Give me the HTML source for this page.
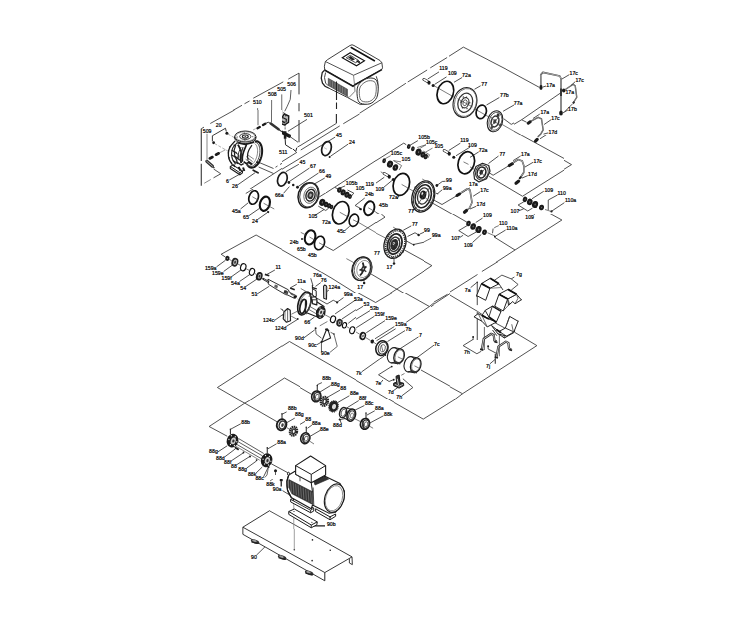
<!DOCTYPE html>
<html lang="en">
<head>
<meta charset="utf-8">
<title>Exploded view</title>
<style>
html,body{margin:0;padding:0;background:#fff;}
body{width:752px;height:632px;overflow:hidden;font-family:"Liberation Sans",sans-serif;}
svg{display:block;}
svg text{font-family:"Liberation Sans",sans-serif;}
.lb text{font-size:5.2px;fill:#000;stroke:#000;stroke-width:0.2px;}
</style>
</head>
<body>
<svg width="752" height="632" viewBox="0 0 752 632">
<rect x="0" y="0" width="752" height="632" fill="#ffffff"/>
<defs>
<clipPath id="c0"><path d="M300 35H394V56H300ZM300 56H394V70H300ZM300 70H394V75H300ZM300 75H394V110H300ZM300 110H394V114H300Z"/></clipPath>
<clipPath id="c1"><path d="M188 110H282V114H188ZM188 114H282V135H188ZM188 135H282V149H188ZM188 149H282V189H188Z"/></clipPath>
<clipPath id="c2"><path d="M242 70H300V75H242ZM242 75H300V110H242ZM282 110H300V114H282ZM282 114H300V135H282ZM282 135H300V149H282Z"/></clipPath>
<clipPath id="c3"><path d="M300 114H376V135H300ZM300 135H376V149H300ZM282 149H376V189H282ZM282 189H376V193H282Z"/></clipPath>
<clipPath id="c4"><path d="M420 75H514V110H420ZM420 110H514V114H420ZM420 114H514V135H420Z"/></clipPath>
<clipPath id="c5"><path d="M394 35H488V56H394ZM394 56H488V70H394ZM394 70H488V75H394ZM394 75H420V110H394ZM394 110H420V114H394Z"/></clipPath>
<clipPath id="c6"><path d="M506 56H600V70H506ZM506 70H600V75H506ZM514 75H600V110H514ZM514 110H600V114H514ZM514 114H600V135H514Z"/></clipPath>
<clipPath id="c7"><path d="M376 135H470V149H376ZM376 149H470V189H376ZM376 189H470V193H376ZM376 193H470V200H376ZM376 200H470V214H376Z"/></clipPath>
<clipPath id="c8"><path d="M470 135H564V149H470ZM470 149H564V189H470ZM470 189H564V193H470ZM470 193H564V200H470ZM470 200H564V214H470Z"/></clipPath>
<clipPath id="c9"><path d="M564 135H614V149H564ZM564 149H614V189H564ZM564 189H614V193H564ZM564 193H614V200H564ZM564 200H614V214H564Z"/></clipPath>
<clipPath id="c10"><path d="M188 189H282V193H188ZM188 193H282V200H188ZM188 200H282V214H188ZM188 214H282V250H188ZM188 250H282V262H188ZM188 262H282V268H188Z"/></clipPath>
<clipPath id="c11"><path d="M282 193H376V200H282ZM282 200H376V214H282ZM282 214H376V250H282ZM282 250H376V262H282ZM282 262H376V268H282ZM282 268H376V272H282Z"/></clipPath>
<clipPath id="c12"><path d="M376 214H424V250H376ZM376 250H424V262H376ZM376 262H424V268H376ZM376 268H424V272H376ZM330 272H424V279H330ZM330 279H424V280H330ZM330 280H424V293H330Z"/></clipPath>
<clipPath id="c13"><path d="M188 268H282V272H188ZM188 272H282V279H188ZM188 279H282V280H188ZM188 280H282V293H188ZM188 293H282V320H188ZM188 320H282V329H188Z"/></clipPath>
<clipPath id="c14"><path d="M282 272H330V279H282ZM282 279H330V280H282ZM282 280H330V293H282ZM282 293H356V320H282ZM282 320H356V329H282ZM262 329H356V330H262ZM262 330H356V341H262Z"/></clipPath>
<clipPath id="c15"><path d="M424 280H434V293H424ZM356 293H434V320H356ZM356 320H434V329H356ZM356 329H434V330H356ZM356 330H434V341H356ZM340 341H434V359H340Z"/></clipPath>
<clipPath id="c16"><path d="M434 320H450V329H434ZM434 329H450V330H434ZM434 330H450V341H434ZM434 341H450V359H434ZM356 359H450V372H356ZM356 372H450V395H356ZM356 395H450V399H356Z"/></clipPath>
<clipPath id="c17"><path d="M450 262H544V268H450ZM450 268H544V272H450ZM450 272H544V279H450ZM450 279H544V280H450ZM450 280H544V293H450ZM450 293H544V320H450ZM450 320H544V329H450ZM450 329H544V330H450Z"/></clipPath>
<clipPath id="c18"><path d="M450 330H544V341H450ZM450 341H544V359H450ZM450 359H544V372H450ZM450 372H544V395H450ZM450 395H544V399H450Z"/></clipPath>
<clipPath id="c19"><path d="M300 372H356V395H300ZM300 395H356V399H300ZM300 399H394V400H300ZM300 400H394V408H300ZM300 408H394V450H300ZM300 450H394V451H300Z"/></clipPath>
<clipPath id="c20"><path d="M206 400H300V408H206ZM206 408H300V450H206ZM206 450H300V451H206ZM206 451H300V474H206ZM206 474H300V479H206Z"/></clipPath>
<clipPath id="c21"><path d="M300 451H364V474H300ZM300 474H364V479H300ZM270 479H364V495H270ZM270 495H364V529H270Z"/></clipPath>
<clipPath id="c22"><path d="M225 495H270V529H225ZM225 529H360V610H225Z"/></clipPath>
<clipPath id="c23"><path d="M424 214H494V250H424ZM424 250H494V262H424ZM424 262H450V268H424ZM424 268H450V272H424ZM424 272H450V279H424Z"/></clipPath>
<clipPath id="c24"><path d="M494 214H574V250H494ZM494 250H574V262H494ZM544 262H574V268H544ZM544 268H574V272H544ZM544 272H574V279H544Z"/></clipPath>
<clipPath id="c25"><path d="M188 329H262V330H188ZM188 330H262V341H188ZM188 341H282V359H188ZM188 359H282V372H188ZM188 372H282V395H188ZM188 395H282V399H188ZM188 399H282V400H188ZM188 400H206V408H188Z"/></clipPath>
<clipPath id="c26"><path d="M282 341H340V359H282ZM282 359H356V372H282ZM282 372H300V395H282ZM282 395H300V399H282ZM282 399H300V400H282Z"/></clipPath>
<clipPath id="c27"><path d="M394 399H470V400H394ZM394 400H470V408H394ZM394 408H470V450H394ZM394 450H470V451H394ZM376 451H470V474H376Z"/></clipPath>
<clipPath id="c28"><path d="M0 0H752V35H0ZM0 35H300V56H0ZM488 35H752V56H488ZM0 56H300V70H0ZM488 56H506V70H488ZM600 56H752V70H600ZM0 70H242V75H0ZM488 70H506V75H488ZM600 70H752V75H600ZM0 75H242V110H0ZM600 75H752V110H600ZM0 110H188V114H0ZM600 110H752V114H600ZM0 114H188V135H0ZM376 114H420V135H376ZM600 114H752V135H600ZM0 135H188V149H0ZM614 135H752V149H614ZM0 149H188V189H0ZM614 149H752V189H614ZM0 189H188V193H0ZM614 189H752V193H614ZM0 193H188V200H0ZM614 193H752V200H614ZM0 200H188V214H0ZM614 200H752V214H614ZM0 214H188V250H0ZM574 214H752V250H574ZM0 250H188V262H0ZM574 250H752V262H574ZM0 262H188V268H0ZM574 262H752V268H574ZM0 268H188V272H0ZM574 268H752V272H574ZM0 272H188V279H0ZM574 272H752V279H574ZM0 279H188V280H0ZM424 279H450V280H424ZM544 279H752V280H544ZM0 280H188V293H0ZM434 280H450V293H434ZM544 280H752V293H544ZM0 293H188V320H0ZM434 293H450V320H434ZM544 293H752V320H544ZM0 320H188V329H0ZM544 320H752V329H544ZM0 329H188V330H0ZM544 329H752V330H544ZM0 330H188V341H0ZM544 330H752V341H544ZM0 341H188V359H0ZM544 341H752V359H544ZM0 359H188V372H0ZM544 359H752V372H544ZM0 372H188V395H0ZM544 372H752V395H544ZM0 395H188V399H0ZM544 395H752V399H544ZM0 399H188V400H0ZM470 399H752V400H470ZM0 400H188V408H0ZM470 400H752V408H470ZM0 408H206V450H0ZM470 408H752V450H470ZM0 450H206V451H0ZM470 450H752V451H470ZM0 451H206V474H0ZM364 451H376V474H364ZM470 451H752V474H470ZM0 474H206V479H0ZM364 474H752V479H364ZM0 479H270V495H0ZM364 479H752V495H364ZM0 495H225V529H0ZM364 495H752V529H364ZM0 529H225V610H0ZM360 529H752V610H360ZM0 610H752V632H0Z"/></clipPath>
</defs>
<g clip-path="url(#c0)">
<path d="M325.38 61.5L327.75 59.5L350 45.5L352 44.75L354 45.5L380 60.5L381.88 62.75L382.5 67.75L381.88 69.38L354.5 84.75L353 86L324.75 70L324.38 66.25Z" fill="#fff" stroke="#2a2a2a" stroke-width="0.9" stroke-linejoin="round"/>
<path d="M325.38 61.5L353.5 75.25L381.88 62.75" fill="none" stroke="#333" stroke-width="0.85"/>
<path d="M353.5 75.25L354.5 84.75" fill="none" stroke="#555" stroke-width="0.7"/>
<path d="M324.5 70L353 86.25L354.5 85" fill="none" stroke="#1a1a1a" stroke-width="1.5"/>
<path d="M354.5 85L381.88 69.62" fill="none" stroke="#1a1a1a" stroke-width="1.5"/>
<path d="M351.25 47.5L374.38 60.75" fill="none" stroke="#111" stroke-width="1.6" stroke-linecap="round"/>
<path d="M342.25 57.75L350.25 52.75L364.5 60.75L356.5 65.75Z" fill="#fff" stroke="#111" stroke-width="1.1"/>
<path d="M346.25 57.75L350.25 55.25L358.75 60.5L355.75 62.75Z" fill="#fff" stroke="#222" stroke-width="0.8"/>
<path d="M348.12 57.5L350.62 56L355 59.38L352.5 60.62Z" fill="#222" stroke="none"/>
<path d="M356.5 61L359.75 62.75" fill="none" stroke="#111" stroke-width="1.4"/>
<path d="M356.88 60.62L360 61.88" fill="none" stroke="#222" stroke-width="1"/>
<path d="M324.5 70.25L322.25 72.5L321.25 78.12L322.5 83.12L325 86.25L329 88.25" fill="none" stroke="#222" stroke-width="1.3"/>
<path d="M325.62 72.5L324.5 77.5L325.62 83.12L328.12 85.62" fill="none" stroke="#444" stroke-width="1"/>
<path d="M328.25 78.25L347.5 89.25L347.5 96.5L328.25 85.5Z" fill="#555" stroke="#333" stroke-width="0.5"/>
<path d="M330 79.75L330 86" fill="none" stroke="#bbb" stroke-width="0.4"/>
<path d="M332.5 81.19L332.5 87.44" fill="none" stroke="#bbb" stroke-width="0.4"/>
<path d="M335 82.62L335 88.88" fill="none" stroke="#bbb" stroke-width="0.4"/>
<path d="M337.5 84.06L337.5 90.31" fill="none" stroke="#bbb" stroke-width="0.4"/>
<path d="M340 85.5L340 91.75" fill="none" stroke="#bbb" stroke-width="0.4"/>
<path d="M342.5 86.94L342.5 93.19" fill="none" stroke="#bbb" stroke-width="0.4"/>
<path d="M345 88.38L345 94.62" fill="none" stroke="#bbb" stroke-width="0.4"/>
<path d="M329 88.25L347.5 97.5L360.25 104.5L365 104L371.88 100.62L376.5 93.75L378 87.5L377.75 81.25L376.25 76.25" fill="none" stroke="#2a2a2a" stroke-width="0.9"/>
<path d="M347.5 96.5L349 97.5L355 91.25L354.5 85" fill="none" stroke="#444" stroke-width="0.7"/>
<path d="M358.12 85.62C359.62 82.71 363.44 79.85 366.25 78.75C369.06 77.65 373.02 77.75 375 79C376.98 80.25 377.83 83.17 378.12 86.25C378.42 89.33 378.1 94.58 376.75 97.5C375.4 100.42 372.75 102.81 370 103.75C367.25 104.69 362.38 104.38 360.25 103.12C358.12 101.88 357.6 99.17 357.25 96.25C356.9 93.33 356.62 88.54 358.12 85.62Z" fill="#fff" stroke="#2a2a2a" stroke-width="1"/>
<path d="M360.25 86.88C361.48 84.48 364.58 82.15 366.88 81.25C369.17 80.35 372.44 80.56 374 81.5C375.56 82.44 376.08 84.38 376.25 86.88C376.42 89.38 376.15 94.06 375 96.5C373.85 98.94 371.56 100.75 369.38 101.5C367.19 102.25 363.52 101.98 361.88 101C360.23 100.02 359.77 97.98 359.5 95.62C359.23 93.27 359.02 89.27 360.25 86.88Z" fill="none" stroke="#444" stroke-width="0.8"/>
<path d="M336.5 81.5L336.5 100" fill="none" stroke="#222" stroke-width="1.1"/>
<path d="M336.5 102.5L336.5 109" fill="none" stroke="#222" stroke-width="1.1"/>
<path d="M395 90.62L359.5 113.25" fill="none" stroke="#333" stroke-width="0.85"/>
</g>
<g clip-path="url(#c1)">
<path d="M201.25 128.75L201.25 161" fill="none" stroke="#222" stroke-width="1"/>
<path d="M201.25 163.75L201.25 185.75" fill="none" stroke="#222" stroke-width="1"/>
<path d="M201.25 128.75L204 127.12" fill="none" stroke="#333" stroke-width="0.85"/>
<path d="M210.25 123.5L234.5 110" fill="none" stroke="#333" stroke-width="0.85"/>
<path d="M204.25 183.25L210.75 179.5" fill="none" stroke="#555" stroke-width="0.7"/>
<path d="M213.5 177.88L220.75 173.75L213.62 169" fill="none" stroke="#333" stroke-width="0.85"/>
<path d="M212.38 141.25L212.38 135.75L225.5 128.25L226.25 131.5" fill="none" stroke="#222" stroke-width="0.9"/>
<ellipse cx="226.88" cy="133.25" rx="1.5" ry="1.5" fill="#1a1a1a" stroke="none"/>
<ellipse cx="213.62" cy="142.75" rx="1.38" ry="1.38" fill="#1a1a1a" stroke="none"/>
<path d="M227.75 134L235.5 138.25" fill="none" stroke="#777" stroke-width="0.6" stroke-dasharray="3 1.5"/>
<path d="M214.5 143.5L229.25 151.88" fill="none" stroke="#777" stroke-width="0.6" stroke-dasharray="3 1.5"/>
<path d="M207 133.75L207 159.75" fill="none" stroke="#555" stroke-width="0.7"/>
<path d="M216 154.75L218.75 153.25" fill="none" stroke="#1a1a1a" stroke-width="2.6" stroke-linecap="round"/>
<path d="M209.75 158.5L212.5 157" fill="none" stroke="#1a1a1a" stroke-width="2.6" stroke-linecap="round"/>
<path d="M218.75 153.25L225.5 149.75" fill="none" stroke="#666" stroke-width="0.6"/>
<path d="M206.75 161.25L212.5 166.25" fill="none" stroke="#333" stroke-width="3" stroke-linecap="round"/>
<path d="M206.75 161.25L212.5 166.25" fill="none" stroke="#aaa" stroke-width="1" stroke-linecap="round"/>
<path d="M213 166.88L214.5 168" fill="none" stroke="#333" stroke-width="1.2"/>
<path d="M259.25 162.5L273.5 168.5" fill="none" stroke="#333" stroke-width="0.85"/>
<path d="M275.5 167.25L277.5 166" fill="none" stroke="#333" stroke-width="0.85"/>
<path d="M280 164.5L283 162.75" fill="none" stroke="#333" stroke-width="0.85"/>
<path d="M258.62 167L273.5 173.5" fill="none" stroke="#333" stroke-width="0.85"/>
<path d="M283 167.75L246.75 191.25" fill="none" stroke="#333" stroke-width="0.85"/>
<path d="M229.25 180L240.5 173.75" fill="none" stroke="#333" stroke-width="0.85"/>
<path d="M237.5 185L255 172.75" fill="none" stroke="#333" stroke-width="0.85"/>
<path d="M253.25 170.25L258 172.75" fill="none" stroke="#222" stroke-width="1.8" stroke-linecap="round"/>
<path d="M258 110L258 125.25" fill="none" stroke="#444" stroke-width="0.8"/>
<path d="M271.5 110L271.5 122.5" fill="none" stroke="#444" stroke-width="0.8"/>
<path d="M257.5 128.25L259.75 127" fill="none" stroke="#1a1a1a" stroke-width="2.4" stroke-linecap="round"/>
<path d="M263 125L265.25 123.75" fill="none" stroke="#1a1a1a" stroke-width="2.4" stroke-linecap="round"/>
<path d="M265.5 123.5L268.25 122.25L270.75 123.5" fill="none" stroke="#333" stroke-width="1"/>
<path d="M270.75 123.5L278.5 129.25" fill="none" stroke="#333" stroke-width="2.6" stroke-linecap="round"/>
<path d="M278.5 129.25L282 131.88" fill="none" stroke="#333" stroke-width="1.2"/>
<path d="M253 130L256.5 128.25" fill="none" stroke="#777" stroke-width="0.6" stroke-dasharray="3 1.5"/>
</g>
<g clip-path="url(#c2)">
<path d="M244.5 103.75L249.5 101" fill="none" stroke="#333" stroke-width="0.85"/>
<path d="M253.25 98.25L283.25 81.88" fill="none" stroke="#333" stroke-width="0.85"/>
<path d="M288.25 79.12L297.62 73.88L299 73.12" fill="none" stroke="#333" stroke-width="0.85"/>
<path d="M299 73.12L299 94.38" fill="none" stroke="#333" stroke-width="1"/>
<path d="M299 103.12L299 111.25" fill="none" stroke="#333" stroke-width="1"/>
<path d="M299 120L299 142.25" fill="none" stroke="#333" stroke-width="1"/>
<path d="M257.62 108.12L257.62 125.62" fill="none" stroke="#444" stroke-width="0.8"/>
<path d="M271.62 100L271.62 123.12" fill="none" stroke="#444" stroke-width="0.8"/>
<path d="M281.75 94.38L281.75 116.5" fill="none" stroke="#444" stroke-width="0.8"/>
<path d="M291 90L290.25 99.38L287.25 106.25L284.75 111.25" fill="none" stroke="#333" stroke-width="0.8" stroke-linejoin="round"/>
<path d="M306 120L288 131.25" fill="none" stroke="#333" stroke-width="0.85"/>
<path d="M257.25 128L259.5 127" fill="none" stroke="#1a1a1a" stroke-width="2.4" stroke-linecap="round"/>
<path d="M263.25 125L265.5 123.75" fill="none" stroke="#1a1a1a" stroke-width="2.4" stroke-linecap="round"/>
<path d="M265.5 123.5L268.25 122L270.75 123.75" fill="none" stroke="#333" stroke-width="1"/>
<path d="M270.75 123.75L278.5 129.5" fill="none" stroke="#333" stroke-width="2.6" stroke-linecap="round"/>
<path d="M278.5 129.5L283.25 133.12" fill="none" stroke="#333" stroke-width="1.2"/>
<path d="M280.5 120.25L284.25 114L288.75 116L288.5 122.25L284.5 125L280.5 123.5Z" fill="#bbb" stroke="#1a1a1a" stroke-width="1.4"/>
<path d="M282.62 117.5L286.38 119.38L286 122.5" fill="none" stroke="#222" stroke-width="1.2"/>
<path d="M281.75 121.25L285.12 122.75" fill="none" stroke="#222" stroke-width="1.6"/>
<path d="M283.25 112.5L285.12 113.75L285.75 116.5" fill="none" stroke="#333" stroke-width="0.9"/>
<path d="M285.12 125L285.12 130" fill="none" stroke="#333" stroke-width="0.9" stroke-dasharray="1 0.6"/>
<path d="M282.25 132.5L289.25 136" fill="none" stroke="#1a1a1a" stroke-width="3.6" stroke-linecap="round"/>
<path d="M285.12 131.25L285.12 138.75" fill="none" stroke="#1a1a1a" stroke-width="2.6"/>
<path d="M285.12 138.12L285.5 144.75L295.75 151.5L296.75 147.75" fill="none" stroke="#222" stroke-width="1" stroke-linejoin="round"/>
<path d="M289.5 136.25L298 142.25" fill="none" stroke="#333" stroke-width="0.85"/>
<path d="M336.5 123L297.5 147.12" fill="none" stroke="#333" stroke-width="0.85"/>
<path d="M336 128.62L329.5 132.62" fill="none" stroke="#333" stroke-width="0.85"/>
<path d="M326 134.75L302.62 149" fill="none" stroke="#333" stroke-width="0.85"/>
</g>
<g clip-path="url(#c3)">
<path d="M336.38 114L336.38 123.25" fill="none" stroke="#222" stroke-width="1.1"/>
<path d="M336.38 123.38L297.5 147.25" fill="none" stroke="#333" stroke-width="0.85"/>
<path d="M285.75 142.5L295.75 151.5L296.75 147.75" fill="none" stroke="#222" stroke-width="1"/>
<path d="M359.5 114L343.25 123.75" fill="none" stroke="#333" stroke-width="0.85"/>
<path d="M339.75 125.88L300.75 150" fill="none" stroke="#333" stroke-width="0.85"/>
<path d="M297 152.25L282 161.62" fill="none" stroke="#333" stroke-width="0.85"/>
<path d="M335.12 137.12L282 169.25" fill="none" stroke="#333" stroke-width="0.85"/>
<ellipse cx="326.5" cy="148.62" rx="4.62" ry="7.25" fill="none" stroke="#1a1a1a" stroke-width="1.7" transform="rotate(17 326.5 148.62)"/>
<path d="M323.88 147.5L327 149.25" fill="none" stroke="#888" stroke-width="0.5"/>
<path d="M348.25 144L330.5 156.25" fill="none" stroke="#333" stroke-width="0.85"/>
<ellipse cx="329.62" cy="156.88" rx="1" ry="1" fill="#1a1a1a" stroke="none"/>
<path d="M298.88 164.25L285.75 171.75" fill="none" stroke="#333" stroke-width="0.85"/>
<path d="M309.5 168L289.75 181.25" fill="none" stroke="#333" stroke-width="0.85"/>
<path d="M318.5 173L298.5 186.25" fill="none" stroke="#333" stroke-width="0.85"/>
<path d="M324.75 178L313.88 184.25" fill="none" stroke="#333" stroke-width="0.85"/>
<ellipse cx="288.88" cy="182.5" rx="1.38" ry="1.38" fill="#1a1a1a" stroke="none"/>
<ellipse cx="293.25" cy="185" rx="1.25" ry="1.25" fill="#1a1a1a" stroke="none"/>
<ellipse cx="297.5" cy="187.25" rx="1.38" ry="1.38" fill="#1a1a1a" stroke="none"/>
<path d="M376 160.5L325.75 193" fill="none" stroke="#333" stroke-width="0.85"/>
<path d="M345.12 185.88L337 189.25" fill="none" stroke="#333" stroke-width="0.85"/>
<path d="M307 119.38L299.5 124" fill="none" stroke="#333" stroke-width="0.85"/>
</g>
<g clip-path="url(#c4)">
<path d="M422.5 79.38L424.5 80.5" fill="none" stroke="#444" stroke-width="0.7"/>
<path d="M434 85.75L514 131.25" fill="none" stroke="#444" stroke-width="0.7"/>
<path d="M439 71.88L427.75 79" fill="none" stroke="#333" stroke-width="0.85"/>
<path d="M446.5 76.88L434.62 84.38" fill="none" stroke="#333" stroke-width="0.85"/>
<path d="M462.12 77.5L454 82.25" fill="none" stroke="#333" stroke-width="0.85"/>
<path d="M424 79.5L427.5 81.5" fill="none" stroke="#222" stroke-width="3" stroke-linecap="round"/>
<path d="M424 79.5L427.5 81.5" fill="none" stroke="#fff" stroke-width="1.6" stroke-linecap="round"/>
<ellipse cx="429" cy="82.75" rx="1.62" ry="1.88" fill="#1a1a1a" stroke="none"/>
<ellipse cx="433.12" cy="85.38" rx="1.5" ry="1.5" fill="#1a1a1a" stroke="none"/>
<ellipse cx="445.38" cy="92.5" rx="8" ry="11.5" fill="none" stroke="#111" stroke-width="1.7" transform="rotate(17 445.38 92.5)"/>
<ellipse cx="465" cy="102.5" rx="11.62" ry="15.25" fill="#fff" stroke="#222" stroke-width="1.1" transform="rotate(17 465 102.5)"/>
<ellipse cx="465.5" cy="102.5" rx="10.75" ry="14.25" fill="none" stroke="#555" stroke-width="0.7" transform="rotate(17 465.5 102.5)"/>
<ellipse cx="465.25" cy="102.75" rx="7.25" ry="9.75" fill="none" stroke="#333" stroke-width="1.3" transform="rotate(17 465.25 102.75)"/>
<ellipse cx="465" cy="102.75" rx="3.75" ry="5.25" fill="none" stroke="#333" stroke-width="1.2" transform="rotate(17 465 102.75)"/>
<ellipse cx="465" cy="102.75" rx="2" ry="3" fill="none" stroke="#444" stroke-width="0.8" transform="rotate(17 465 102.75)"/>
<ellipse cx="466.5" cy="97.25" rx="0.62" ry="0.88" fill="#333" stroke="none" transform="rotate(17 466.5 97.25)"/>
<ellipse cx="469.75" cy="102.75" rx="0.62" ry="0.88" fill="#333" stroke="none" transform="rotate(17 469.75 102.75)"/>
<ellipse cx="467" cy="108.5" rx="0.62" ry="0.88" fill="#333" stroke="none" transform="rotate(17 467 108.5)"/>
<ellipse cx="462.5" cy="107.75" rx="0.62" ry="0.88" fill="#333" stroke="none" transform="rotate(17 462.5 107.75)"/>
<ellipse cx="460.75" cy="102" rx="0.62" ry="0.88" fill="#333" stroke="none" transform="rotate(17 460.75 102)"/>
<ellipse cx="463.25" cy="97" rx="0.62" ry="0.88" fill="#333" stroke="none" transform="rotate(17 463.25 97)"/>
<path d="M457.5 98.75L472.5 106.88" fill="none" stroke="#444" stroke-width="0.7"/>
<path d="M454.5 111.25L457.5 115.25L462.5 117.25" fill="none" stroke="#333" stroke-width="1"/>
<path d="M480.62 85.75L474.5 89.25" fill="none" stroke="#333" stroke-width="0.85"/>
<path d="M499.38 97.5L486.5 105" fill="none" stroke="#333" stroke-width="0.85"/>
<ellipse cx="481.25" cy="111.88" rx="5" ry="6.88" fill="none" stroke="#111" stroke-width="1.7" transform="rotate(17 481.25 111.88)"/>
<ellipse cx="495" cy="121.25" rx="7.5" ry="10.75" fill="#fff" stroke="#222" stroke-width="1.1" transform="rotate(17 495 121.25)"/>
<ellipse cx="495.38" cy="121.25" rx="6.25" ry="9.25" fill="none" stroke="#444" stroke-width="0.8" transform="rotate(17 495.38 121.25)"/>
<ellipse cx="495" cy="121.5" rx="3.75" ry="5.5" fill="none" stroke="#333" stroke-width="1.6" transform="rotate(17 495 121.5)"/>
<ellipse cx="494.75" cy="121.5" rx="1.5" ry="2.25" fill="#333" stroke="none" transform="rotate(17 494.75 121.5)"/>
<path d="M490 116.25L500 126.25" fill="none" stroke="#444" stroke-width="0.8"/>
<path d="M491.25 126.25L499 116.5" fill="none" stroke="#444" stroke-width="0.8"/>
<ellipse cx="498.12" cy="115" rx="1.5" ry="1.75" fill="#333" stroke="none"/>
<ellipse cx="491.75" cy="127.5" rx="1.25" ry="1.5" fill="#444" stroke="none"/>
<ellipse cx="500.25" cy="125" rx="1.12" ry="1.38" fill="#444" stroke="none"/>
<path d="M514 105L503.12 111.25" fill="none" stroke="#333" stroke-width="0.85"/>
<path d="M503.75 118.75L511.25 124.38L514 122.88" fill="none" stroke="#333" stroke-width="0.85"/>
<path d="M459.75 143.12L446.88 150.62" fill="none" stroke="#333" stroke-width="0.85"/>
<path d="M467.5 148.12L458.75 153.12" fill="none" stroke="#333" stroke-width="0.85"/>
<path d="M478.12 152.75L475 154.5" fill="none" stroke="#333" stroke-width="0.85"/>
<path d="M425 140L420 143.12" fill="none" stroke="#333" stroke-width="0.85"/>
<path d="M430.62 145L425 148.12L427.5 150" fill="none" stroke="#333" stroke-width="0.85"/>
<path d="M436.25 148.75L430 151.88L426.25 150" fill="none" stroke="#333" stroke-width="0.85"/>
<path d="M445.25 149.75L448.75 151.75" fill="none" stroke="#222" stroke-width="3" stroke-linecap="round"/>
<path d="M445.25 149.75L448.75 151.75" fill="none" stroke="#fff" stroke-width="1.6" stroke-linecap="round"/>
<ellipse cx="450.25" cy="153" rx="1.62" ry="1.88" fill="#1a1a1a" stroke="none"/>
</g>
<g clip-path="url(#c5)">
<path d="M463.38 47.12L449 56.25" fill="none" stroke="#333" stroke-width="0.85"/>
<path d="M447.12 57.5L430.25 67.88" fill="none" stroke="#333" stroke-width="0.85"/>
<path d="M427.12 70L407.75 82" fill="none" stroke="#333" stroke-width="0.85"/>
<path d="M405.88 83.25L394 91" fill="none" stroke="#333" stroke-width="0.85"/>
<path d="M463.38 47.12L488 59.75" fill="none" stroke="#333" stroke-width="0.85"/>
<path d="M439 71.88L427.75 79" fill="none" stroke="#333" stroke-width="0.85"/>
<path d="M446.5 76.88L434.62 84.38" fill="none" stroke="#333" stroke-width="0.85"/>
<path d="M462.12 77.5L454 82.25" fill="none" stroke="#333" stroke-width="0.85"/>
</g>
<g clip-path="url(#c6)">
<path d="M503.5 67.88L539.12 87.25" fill="none" stroke="#333" stroke-width="0.85"/>
<path d="M540.88 86.62L540.75 74.75L542.88 72.38L559.75 76L561 78.5L561 111" fill="none" stroke="#3a3a3a" stroke-width="1.6" stroke-linecap="round" stroke-linejoin="round"/>
<path d="M540.88 86.62L540.75 74.75L542.88 72.38L559.75 76L561 78.5L561 111" fill="none" stroke="#eee" stroke-width="0.6" stroke-linecap="round" stroke-linejoin="round"/>
<ellipse cx="541" cy="87.5" rx="1.62" ry="2.38" fill="#1a1a1a" stroke="none"/>
<ellipse cx="561" cy="112.88" rx="1.88" ry="2.5" fill="#1a1a1a" stroke="none"/>
<path d="M561 88.5L561 96" fill="none" stroke="#222" stroke-width="1.6"/>
<path d="M543 87L546 86" fill="none" stroke="#333" stroke-width="0.85"/>
<path d="M569.12 74.75L561.75 79.12" fill="none" stroke="#333" stroke-width="0.85"/>
<path d="M567.88 110L563 112.88" fill="none" stroke="#333" stroke-width="0.85"/>
<ellipse cx="563.75" cy="90.5" rx="1.75" ry="2" fill="#1a1a1a" stroke="none"/>
<path d="M565.38 89.5L573.25 84.25L575.25 86L576.75 97.25L573.5 102.5" fill="none" stroke="#3a3a3a" stroke-width="1.4" stroke-linecap="round" stroke-linejoin="round"/>
<path d="M565.38 89.5L573.25 84.25L575.25 86L576.75 97.25L573.5 102.5" fill="none" stroke="#eee" stroke-width="0.4" stroke-linecap="round" stroke-linejoin="round"/>
<path d="M575.12 81.75L571 85.5" fill="none" stroke="#333" stroke-width="0.85"/>
<path d="M572.75 103.5L574.5 101.75" fill="none" stroke="#333" stroke-width="1.8"/>
<path d="M572.25 104.12L564.75 111.62" fill="none" stroke="#333" stroke-width="0.85"/>
<path d="M560.5 93L521.62 119.75L513.25 124.75L505.38 120.75" fill="none" stroke="#333" stroke-width="0.85"/>
<path d="M521.62 119.75L526.62 122.25" fill="none" stroke="#333" stroke-width="0.85"/>
<path d="M539.75 114.12L533 118.5" fill="none" stroke="#333" stroke-width="0.85"/>
<path d="M551 119.75L544.12 124.5" fill="none" stroke="#333" stroke-width="0.85"/>
<path d="M548.25 132.88L543.5 134.12" fill="none" stroke="#333" stroke-width="0.85"/>
<path d="M513.5 104.75L505.38 109.75" fill="none" stroke="#333" stroke-width="0.85"/>
<path d="M512.25 130.38L522.88 136.25" fill="none" stroke="#333" stroke-width="0.85"/>
</g>
<g clip-path="url(#c7)">
<path d="M375.38 161L403.75 143.12L406.25 144.75" fill="none" stroke="#333" stroke-width="0.85"/>
<path d="M417.88 140.62L410 145.25" fill="none" stroke="#333" stroke-width="0.85"/>
<ellipse cx="408.75" cy="146.5" rx="1.79" ry="2.48" fill="#1a1a1a" stroke="none" transform="rotate(17 408.75 146.5)"/>
<ellipse cx="408.88" cy="146.5" rx="0.41" ry="0.79" fill="#666" stroke="none" transform="rotate(17 408.88 146.5)"/>
<ellipse cx="412.88" cy="148.75" rx="1.79" ry="2.48" fill="#1a1a1a" stroke="none" transform="rotate(17 412.88 148.75)"/>
<ellipse cx="413" cy="148.75" rx="0.41" ry="0.79" fill="#666" stroke="none" transform="rotate(17 413 148.75)"/>
<ellipse cx="418.5" cy="152.12" rx="3.03" ry="3.58" fill="#1a1a1a" stroke="none" transform="rotate(17 418.5 152.12)"/>
<ellipse cx="418.62" cy="152.12" rx="0.69" ry="1.14" fill="#666" stroke="none" transform="rotate(17 418.62 152.12)"/>
<ellipse cx="422.88" cy="154.62" rx="2.34" ry="3.03" fill="#1a1a1a" stroke="none" transform="rotate(17 422.88 154.62)"/>
<ellipse cx="423" cy="154.62" rx="0.53" ry="0.96" fill="#666" stroke="none" transform="rotate(17 423 154.62)"/>
<ellipse cx="425.75" cy="156.62" rx="2.06" ry="2.75" fill="#1a1a1a" stroke="none" transform="rotate(17 425.75 156.62)"/>
<ellipse cx="425.88" cy="156.62" rx="0.47" ry="0.88" fill="#666" stroke="none" transform="rotate(17 425.88 156.62)"/>
<path d="M426 144.75L417.25 147.5" fill="none" stroke="#444" stroke-width="0.7"/>
<path d="M426 144.75L419.75 148.5" fill="none" stroke="#444" stroke-width="0.7"/>
<path d="M432.5 148.12L425.38 152.25L429.5 154.75L427.88 158.12" fill="none" stroke="#444" stroke-width="0.7"/>
<path d="M425.38 152.25L423.5 151" fill="none" stroke="#444" stroke-width="0.7"/>
<ellipse cx="384.12" cy="160.75" rx="1.79" ry="2.48" fill="#1a1a1a" stroke="none" transform="rotate(17 384.12 160.75)"/>
<ellipse cx="384.25" cy="160.75" rx="0.41" ry="0.79" fill="#666" stroke="none" transform="rotate(17 384.25 160.75)"/>
<ellipse cx="390" cy="164.12" rx="3.03" ry="3.58" fill="#1a1a1a" stroke="none" transform="rotate(17 390 164.12)"/>
<ellipse cx="390.12" cy="164.12" rx="0.69" ry="1.14" fill="#666" stroke="none" transform="rotate(17 390.12 164.12)"/>
<ellipse cx="395.38" cy="167.5" rx="2.75" ry="3.3" fill="#1a1a1a" stroke="none" transform="rotate(17 395.38 167.5)"/>
<ellipse cx="395.5" cy="167.5" rx="0.62" ry="1.05" fill="#666" stroke="none" transform="rotate(17 395.5 167.5)"/>
<path d="M390.75 155.62L385 158.75" fill="none" stroke="#444" stroke-width="0.7"/>
<path d="M401 161.88L393.5 160.62L401.62 165.62L399.12 170" fill="none" stroke="#444" stroke-width="0.7"/>
<path d="M380.75 171.75L383.75 173.75" fill="none" stroke="#444" stroke-width="0.7"/>
<path d="M384.25 173.5L387.75 175.5" fill="none" stroke="#222" stroke-width="3" stroke-linecap="round"/>
<path d="M384.25 173.5L387.75 175.5" fill="none" stroke="#fff" stroke-width="1.6" stroke-linecap="round"/>
<ellipse cx="389.25" cy="176.75" rx="1.62" ry="1.88" fill="#1a1a1a" stroke="none"/>
<ellipse cx="393.25" cy="179.38" rx="1.5" ry="1.5" fill="#1a1a1a" stroke="none"/>
<path d="M375.38 183.5L384.25 177.25" fill="none" stroke="#333" stroke-width="0.85"/>
<path d="M383.5 187.5L392.25 180.25" fill="none" stroke="#333" stroke-width="0.85"/>
<ellipse cx="401.38" cy="184.38" rx="8" ry="11.25" fill="none" stroke="#111" stroke-width="1.7" transform="rotate(17 401.38 184.38)"/>
<path d="M401.62 184.38L413.5 191.25" fill="none" stroke="#444" stroke-width="0.7"/>
<path d="M397 199L399.12 195.62" fill="none" stroke="#333" stroke-width="0.85"/>
<ellipse cx="423.25" cy="196.5" rx="11" ry="16" fill="#fff" stroke="#1a1a1a" stroke-width="1.3" transform="rotate(17 423.25 196.5)"/>
<ellipse cx="423.5" cy="196.5" rx="9.75" ry="14.5" fill="none" stroke="#333" stroke-width="1" transform="rotate(17 423.5 196.5)"/>
<ellipse cx="423.25" cy="196.25" rx="7.75" ry="11.75" fill="none" stroke="#222" stroke-width="1.6" transform="rotate(17 423.25 196.25)"/>
<ellipse cx="423.25" cy="196" rx="5.5" ry="8.25" fill="none" stroke="#333" stroke-width="1.2" transform="rotate(17 423.25 196)"/>
<ellipse cx="423" cy="195" rx="3.25" ry="4.5" fill="#1a1a1a" stroke="none" transform="rotate(17 423 195)"/>
<ellipse cx="422.25" cy="193.75" rx="1" ry="1.5" fill="#eee" stroke="none" transform="rotate(17 422.25 193.75)"/>
<path d="M416 188.75L431 203.12" fill="none" stroke="#444" stroke-width="0.8"/>
<path d="M417.25 205L429.75 187.5" fill="none" stroke="#444" stroke-width="0.8"/>
<ellipse cx="428.5" cy="182.25" rx="1" ry="1.25" fill="#333" stroke="none" transform="rotate(17 428.5 182.25)"/>
<ellipse cx="433.75" cy="191.25" rx="1" ry="1.25" fill="#333" stroke="none" transform="rotate(17 433.75 191.25)"/>
<ellipse cx="431" cy="205" rx="1" ry="1.25" fill="#333" stroke="none" transform="rotate(17 431 205)"/>
<ellipse cx="419.12" cy="210.62" rx="1" ry="1.25" fill="#333" stroke="none" transform="rotate(17 419.12 210.62)"/>
<ellipse cx="412.5" cy="202.5" rx="1" ry="1.25" fill="#333" stroke="none" transform="rotate(17 412.5 202.5)"/>
<ellipse cx="415.38" cy="187.5" rx="1" ry="1.25" fill="#333" stroke="none" transform="rotate(17 415.38 187.5)"/>
<path d="M422.25 179L425.38 180.75" fill="none" stroke="#444" stroke-width="0.7"/>
<path d="M412.5 210.62L416.62 207.5" fill="none" stroke="#333" stroke-width="0.85"/>
<path d="M445.5 181.25L442.25 181.5L437.5 185" fill="none" stroke="#333" stroke-width="0.85"/>
<ellipse cx="436.88" cy="185.5" rx="1.38" ry="1.38" fill="#1a1a1a" stroke="none"/>
<path d="M442.25 189.75L438.12 193.12" fill="none" stroke="#333" stroke-width="0.85"/>
<path d="M436.25 193.25L438.25 194" fill="none" stroke="#333" stroke-width="1.2"/>
<path d="M433.75 200L442 204.5L471 187.25" fill="none" stroke="#333" stroke-width="0.85"/>
<path d="M432.5 203.12L453.5 215" fill="none" stroke="#333" stroke-width="0.85"/>
<path d="M460.38 143.12L448.75 150.5" fill="none" stroke="#333" stroke-width="0.85"/>
<path d="M471 146.5L456 155.75" fill="none" stroke="#333" stroke-width="0.85"/>
<path d="M442.88 150.25L444.5 151.25" fill="none" stroke="#444" stroke-width="0.7"/>
<path d="M444.25 150.5L447.75 152.5" fill="none" stroke="#222" stroke-width="3" stroke-linecap="round"/>
<path d="M444.25 150.5L447.75 152.5" fill="none" stroke="#fff" stroke-width="1.6" stroke-linecap="round"/>
<ellipse cx="449.25" cy="153.75" rx="1.62" ry="1.88" fill="#1a1a1a" stroke="none"/>
<ellipse cx="453.75" cy="157.25" rx="1.5" ry="1.5" fill="#1a1a1a" stroke="none"/>
<path d="M463.5 161.88L468.5 164.38" fill="none" stroke="#444" stroke-width="0.7"/>
<path d="M373.5 211L385.38 217.75" fill="none" stroke="#333" stroke-width="0.85"/>
</g>
<g clip-path="url(#c8)">
<path d="M520 134.38L565 159" fill="none" stroke="#333" stroke-width="0.85"/>
<path d="M540 138.75L546.88 134.38" fill="none" stroke="#333" stroke-width="0.85"/>
<path d="M478.75 151.88L469.38 157.75" fill="none" stroke="#333" stroke-width="0.85"/>
<path d="M498.5 156L488.5 163.5" fill="none" stroke="#333" stroke-width="0.85"/>
<path d="M520.62 156L513.12 160.62" fill="none" stroke="#333" stroke-width="0.85"/>
<path d="M533.12 162.25L525 167" fill="none" stroke="#333" stroke-width="0.85"/>
<path d="M527.75 175.62L521.88 178.12" fill="none" stroke="#333" stroke-width="0.85"/>
<path d="M473.75 172.5L476 166.5L482.5 163.25L488.75 165.5L490 171.25L486.5 178.75L479 182L474.5 179Z" fill="#fff" stroke="#222" stroke-width="1.2" stroke-linejoin="round"/>
<ellipse cx="481.88" cy="172.5" rx="6.25" ry="7.5" fill="none" stroke="#333" stroke-width="1" transform="rotate(17 481.88 172.5)"/>
<ellipse cx="481.5" cy="172.5" rx="4.25" ry="5.5" fill="none" stroke="#222" stroke-width="1.6" transform="rotate(17 481.5 172.5)"/>
<ellipse cx="481.25" cy="172.25" rx="1.75" ry="2.5" fill="#222" stroke="none" transform="rotate(17 481.25 172.25)"/>
<path d="M477.5 167.75L485.62 177.5" fill="none" stroke="#444" stroke-width="0.8"/>
<path d="M477.75 178.12L486 167.25" fill="none" stroke="#444" stroke-width="0.8"/>
<path d="M470 166.88L474.38 169.38" fill="none" stroke="#444" stroke-width="0.7"/>
<path d="M488.75 172.5L493.12 175.25L508.75 165.75" fill="none" stroke="#333" stroke-width="0.85"/>
<path d="M509.38 165.5L512.25 163.75" fill="none" stroke="#1a1a1a" stroke-width="3.2" stroke-linecap="round"/>
<path d="M513.12 162.75L518.12 159.5L522.25 161L524 166.25L523.75 172.5L520.75 177" fill="none" stroke="#3a3a3a" stroke-width="1.6" stroke-linecap="round" stroke-linejoin="round"/>
<path d="M513.12 162.75L518.12 159.5L522.25 161L524 166.25L523.75 172.5L520.75 177" fill="none" stroke="#eee" stroke-width="0.6" stroke-linecap="round" stroke-linejoin="round"/>
<path d="M519.75 178.25L520.75 177.25" fill="none" stroke="#1a1a1a" stroke-width="2" stroke-linecap="round"/>
<path d="M516 183.25L518.5 181.25" fill="none" stroke="#1a1a1a" stroke-width="3.2" stroke-linecap="round"/>
<path d="M488.75 176.25L522.5 196.25" fill="none" stroke="#333" stroke-width="0.85"/>
<path d="M565 169.5L522.5 196.25" fill="none" stroke="#333" stroke-width="0.85"/>
<ellipse cx="525" cy="199.38" rx="2.2" ry="2.75" fill="#1a1a1a" stroke="none" transform="rotate(17 525 199.38)"/>
<ellipse cx="525.12" cy="199.38" rx="0.5" ry="0.88" fill="#666" stroke="none" transform="rotate(17 525.12 199.38)"/>
<ellipse cx="529.75" cy="201.88" rx="2.75" ry="3.3" fill="#1a1a1a" stroke="none" transform="rotate(17 529.75 201.88)"/>
<ellipse cx="529.88" cy="201.88" rx="0.62" ry="1.05" fill="#666" stroke="none" transform="rotate(17 529.88 201.88)"/>
<ellipse cx="535" cy="204.5" rx="3.03" ry="3.58" fill="#1a1a1a" stroke="none" transform="rotate(17 535 204.5)"/>
<ellipse cx="535.12" cy="204.5" rx="0.69" ry="1.14" fill="#666" stroke="none" transform="rotate(17 535.12 204.5)"/>
<ellipse cx="541.5" cy="207.5" rx="2.48" ry="2.75" fill="#1a1a1a" stroke="none" transform="rotate(17 541.5 207.5)"/>
<ellipse cx="541.62" cy="207.5" rx="0.56" ry="0.88" fill="#666" stroke="none" transform="rotate(17 541.62 207.5)"/>
<path d="M523.75 201.88L518.12 205L527.75 211L532.5 208.12" fill="none" stroke="#333" stroke-width="0.85"/>
<path d="M519 210.75L523.75 208.75" fill="none" stroke="#333" stroke-width="0.85"/>
<path d="M543.75 191.25L532 198.75" fill="none" stroke="#333" stroke-width="0.85"/>
<path d="M557.5 195L548.25 200L548.25 210" fill="none" stroke="#333" stroke-width="0.85"/>
<ellipse cx="551.5" cy="211.38" rx="1.12" ry="1.12" fill="#1a1a1a" stroke="none"/>
<path d="M565 202.25L551.88 211" fill="none" stroke="#333" stroke-width="0.85"/>
<path d="M545 209.5L551.25 211.5" fill="none" stroke="#444" stroke-width="0.7"/>
<path d="M480 191.88L473.12 196.25" fill="none" stroke="#333" stroke-width="0.85"/>
<path d="M476.25 206.25L470 209" fill="none" stroke="#333" stroke-width="0.85"/>
</g>
<g clip-path="url(#c9)">
<path d="M518.75 134.25L571.5 164.62L518.75 197.5" fill="none" stroke="#333" stroke-width="0.85"/>
<path d="M556.88 195L548.25 199.75L548 209.75" fill="none" stroke="#333" stroke-width="0.85"/>
<path d="M564.38 202.5L552 210.75" fill="none" stroke="#333" stroke-width="0.85"/>
<ellipse cx="551.38" cy="211.62" rx="1.12" ry="1.12" fill="#1a1a1a" stroke="none"/>
</g>
<g clip-path="url(#c10)">
<path d="M245.75 193.5L253.62 188.75" fill="none" stroke="#333" stroke-width="0.85"/>
<ellipse cx="253.62" cy="197.5" rx="4.62" ry="6.88" fill="none" stroke="#111" stroke-width="1.7" transform="rotate(17 253.62 197.5)"/>
<ellipse cx="264.88" cy="203.75" rx="4.88" ry="7.25" fill="none" stroke="#111" stroke-width="2.1" transform="rotate(17 264.88 203.75)"/>
<path d="M252.38 196.75L258 200" fill="none" stroke="#444" stroke-width="0.7"/>
<path d="M263.62 203.25L274.25 209" fill="none" stroke="#444" stroke-width="0.7"/>
<path d="M240.5 209L248.25 202.75" fill="none" stroke="#333" stroke-width="0.85"/>
<path d="M248.62 215.88L259.5 208.38" fill="none" stroke="#333" stroke-width="0.85"/>
<path d="M257.38 219.62L267.5 212.5" fill="none" stroke="#333" stroke-width="0.85"/>
<ellipse cx="268.12" cy="212.12" rx="1.12" ry="1.12" fill="#1a1a1a" stroke="none"/>
<path d="M225.5 257.12L221.12 254.25L256.12 235L283 250" fill="none" stroke="#333" stroke-width="0.85"/>
</g>
<g clip-path="url(#c11)">
<ellipse cx="322.25" cy="202.38" rx="3.03" ry="3.58" fill="#1a1a1a" stroke="none" transform="rotate(17 322.25 202.38)"/>
<ellipse cx="322.38" cy="202.38" rx="0.69" ry="1.14" fill="#666" stroke="none" transform="rotate(17 322.38 202.38)"/>
<ellipse cx="326" cy="204.5" rx="2.2" ry="2.75" fill="#1a1a1a" stroke="none" transform="rotate(17 326 204.5)"/>
<ellipse cx="326.12" cy="204.5" rx="0.5" ry="0.88" fill="#666" stroke="none" transform="rotate(17 326.12 204.5)"/>
<ellipse cx="329" cy="205.75" rx="2.06" ry="2.61" fill="#1a1a1a" stroke="none" transform="rotate(17 329 205.75)"/>
<ellipse cx="329.12" cy="205.75" rx="0.47" ry="0.83" fill="#666" stroke="none" transform="rotate(17 329.12 205.75)"/>
<ellipse cx="331.5" cy="207" rx="1.79" ry="2.34" fill="#1a1a1a" stroke="none" transform="rotate(17 331.5 207)"/>
<ellipse cx="331.62" cy="207" rx="0.41" ry="0.74" fill="#666" stroke="none" transform="rotate(17 331.62 207)"/>
<path d="M318.25 206.12L325.75 210.5L328.5 208.25" fill="none" stroke="#333" stroke-width="0.85"/>
<path d="M315.75 214.88L324 209.5" fill="none" stroke="#333" stroke-width="0.85"/>
<ellipse cx="340.75" cy="212.75" rx="8" ry="11.5" fill="none" stroke="#111" stroke-width="1.7" transform="rotate(17 340.75 212.75)"/>
<ellipse cx="353.88" cy="220.25" rx="4.62" ry="6.25" fill="none" stroke="#111" stroke-width="1.6" transform="rotate(17 353.88 220.25)"/>
<path d="M345.12 230.25L349.75 226.25" fill="none" stroke="#333" stroke-width="0.85"/>
<ellipse cx="369.25" cy="208.25" rx="5" ry="7.12" fill="none" stroke="#111" stroke-width="1.9" transform="rotate(17 369.25 208.25)"/>
<path d="M364.75 198L355.12 205.5L362 209.25" fill="none" stroke="#333" stroke-width="0.85"/>
<path d="M359.25 208.5L361.5 209.75" fill="none" stroke="#111" stroke-width="1.6"/>
<path d="M339.75 212.25L347 216.25" fill="none" stroke="#444" stroke-width="0.7"/>
<path d="M353 219.75L359.5 223L377 233.25" fill="none" stroke="#444" stroke-width="0.7"/>
<path d="M368.25 207.75L377 212.75" fill="none" stroke="#444" stroke-width="0.7"/>
<path d="M326 192.75L317.62 198" fill="none" stroke="#333" stroke-width="0.85"/>
<path d="M377 221.75L333.25 250.5L325.12 246.12" fill="none" stroke="#333" stroke-width="0.85"/>
<ellipse cx="310.12" cy="237.38" rx="5.12" ry="7.25" fill="none" stroke="#111" stroke-width="2.1" transform="rotate(17 310.12 237.38)"/>
<ellipse cx="319.5" cy="243" rx="4.88" ry="6.88" fill="none" stroke="#111" stroke-width="1.7" transform="rotate(17 319.5 243)"/>
<ellipse cx="302" cy="239" rx="1" ry="1" fill="#1a1a1a" stroke="none"/>
<path d="M300.75 232.38L305.75 234.88" fill="none" stroke="#444" stroke-width="0.7"/>
<path d="M309.5 237L314.75 240" fill="none" stroke="#444" stroke-width="0.7"/>
<path d="M319 242.75L324.5 245.75" fill="none" stroke="#444" stroke-width="0.7"/>
<path d="M281.38 249.5L322.62 273" fill="none" stroke="#333" stroke-width="0.85"/>
<path d="M346.38 258.62L354.5 263" fill="none" stroke="#444" stroke-width="0.7"/>
</g>
<g clip-path="url(#c12)">
<path d="M381.25 214L385 217.12L332.5 250.25L329.38 248.75" fill="none" stroke="#333" stroke-width="0.85"/>
<path d="M356.88 223.38L385 237.75" fill="none" stroke="#444" stroke-width="0.7"/>
<path d="M403.75 249.62L425 261.25" fill="none" stroke="#333" stroke-width="0.85"/>
<path d="M370 273.38L405 294" fill="none" stroke="#333" stroke-width="0.85"/>
<path d="M425 270.5L389.38 294" fill="none" stroke="#333" stroke-width="0.85"/>
<path d="M329.38 276.75L356.88 294" fill="none" stroke="#333" stroke-width="0.85"/>
<path d="M411.25 225.88L403.25 230.25" fill="none" stroke="#333" stroke-width="0.85"/>
<path d="M393.12 227.12L397.5 229.62" fill="none" stroke="#444" stroke-width="0.7"/>
<path d="M373.12 255L369 257.75" fill="none" stroke="#333" stroke-width="0.85"/>
<path d="M346.25 259L353.25 262.75" fill="none" stroke="#444" stroke-width="0.7"/>
<path d="M407.5 236.5L415 232.75L418 234.5" fill="none" stroke="#333" stroke-width="0.85"/>
<ellipse cx="418.62" cy="235" rx="1.25" ry="1.25" fill="#1a1a1a" stroke="none"/>
<path d="M425 231.75L420 234" fill="none" stroke="#333" stroke-width="0.85"/>
<path d="M406.25 240.88L413.12 244.62L425 242" fill="none" stroke="#333" stroke-width="0.85"/>
<ellipse cx="413.75" cy="244.75" rx="0.88" ry="0.88" fill="#1a1a1a" stroke="none"/>
</g>
<g clip-path="url(#c13)">
<path d="M230.5 249L221.12 254.38L225.5 256.88" fill="none" stroke="#333" stroke-width="0.85"/>
</g>
<g clip-path="url(#c14)">
<path d="M274.5 270.12L267.25 274.25" fill="none" stroke="#333" stroke-width="0.85"/>
<path d="M265.12 274.25L269 275.5" fill="none" stroke="#222" stroke-width="1.6"/>
<path d="M296.75 284.25L290.5 287.75" fill="none" stroke="#333" stroke-width="0.85"/>
<path d="M290.12 288L294.75 289.75" fill="none" stroke="#222" stroke-width="1.6"/>
<path d="M261.38 292L269.5 285.75" fill="none" stroke="#333" stroke-width="0.85"/>
<path d="M297.62 298.88L300.75 300.75" fill="none" stroke="#444" stroke-width="0.7"/>
<path d="M310.75 278.25L313 285.75" fill="none" stroke="#333" stroke-width="0.85"/>
<path d="M320.75 282.62L315.5 286.38" fill="none" stroke="#333" stroke-width="0.85"/>
<path d="M300.75 288.5L306 291.5" fill="none" stroke="#444" stroke-width="0.7"/>
<path d="M309.5 320.75L314.5 317" fill="none" stroke="#333" stroke-width="0.85"/>
<path d="M323.5 286.38L324.5 285.12L326 285.5L326.75 287L326.5 299.25L323.75 298.25Z" fill="none" stroke="#222" stroke-width="1.1" stroke-linejoin="round"/>
<path d="M325.12 286.38L325.12 298.25" fill="none" stroke="#666" stroke-width="0.7"/>
<path d="M328.88 290.12L327 291.38" fill="none" stroke="#333" stroke-width="0.85"/>
<path d="M317 298.25L327 304L333.25 300.25L336.75 302" fill="none" stroke="#333" stroke-width="0.85"/>
<ellipse cx="337.12" cy="302.38" rx="1.12" ry="1.12" fill="#1a1a1a" stroke="none"/>
<path d="M343.5 297.62L337.75 301.75" fill="none" stroke="#333" stroke-width="0.85"/>
<path d="M303.25 261.38L357 293.25" fill="none" stroke="#333" stroke-width="0.85"/>
<path d="M357 299L335.12 313.88" fill="none" stroke="#333" stroke-width="0.85"/>
<ellipse cx="333" cy="319.25" rx="2.5" ry="3.38" fill="none" stroke="#111" stroke-width="1.15" transform="rotate(17 333 319.25)"/>
<ellipse cx="339.5" cy="322.75" rx="3.12" ry="3.88" fill="#222" stroke="none" transform="rotate(17 339.5 322.75)"/>
<ellipse cx="339.62" cy="322.75" rx="1.62" ry="2.38" fill="#aaa" stroke="none" transform="rotate(17 339.62 322.75)"/>
<ellipse cx="339.62" cy="322.75" rx="0.88" ry="1.38" fill="#333" stroke="none" transform="rotate(17 339.62 322.75)"/>
<ellipse cx="344.5" cy="325.25" rx="2" ry="2.75" fill="none" stroke="#111" stroke-width="1.1" transform="rotate(17 344.5 325.25)"/>
<ellipse cx="352.25" cy="330.25" rx="2.5" ry="3.5" fill="none" stroke="#111" stroke-width="1.15" transform="rotate(17 352.25 330.25)"/>
<path d="M357 309L342 319" fill="none" stroke="#333" stroke-width="0.85"/>
<path d="M357 316.5L348.25 323.25" fill="none" stroke="#333" stroke-width="0.85"/>
<path d="M324.5 314.5L330.5 317.75" fill="none" stroke="#444" stroke-width="0.7"/>
<path d="M335.75 320.75L337 321.38" fill="none" stroke="#444" stroke-width="0.7"/>
<path d="M347 326.75L349.5 328.25" fill="none" stroke="#444" stroke-width="0.7"/>
<path d="M283.88 312L287.62 308.5L290.25 310.25L290.5 320.75L286.5 322.25L283.25 318.88Z" fill="none" stroke="#222" stroke-width="1.2" stroke-linejoin="round"/>
<path d="M287.62 308.88L287.62 321.75" fill="none" stroke="#444" stroke-width="0.8"/>
<path d="M285.12 311.38L285.12 320.12" fill="none" stroke="#666" stroke-width="0.7"/>
<path d="M274.5 320.75L282.75 315.12" fill="none" stroke="#333" stroke-width="0.85"/>
<path d="M280.12 308.88L284.5 311.5" fill="none" stroke="#444" stroke-width="0.7"/>
<path d="M286.38 326.38L297 319.75" fill="none" stroke="#333" stroke-width="0.85"/>
<ellipse cx="297.75" cy="319" rx="0.88" ry="0.88" fill="#1a1a1a" stroke="none"/>
<path d="M290.5 315.75L297 319.25" fill="none" stroke="#444" stroke-width="0.7"/>
<path d="M291.38 314.25L297 311.38" fill="none" stroke="#444" stroke-width="0.7"/>
</g>
<g clip-path="url(#c15)">
<ellipse cx="364.38" cy="282.75" rx="1.25" ry="1.25" fill="#1a1a1a" stroke="none"/>
<path d="M339.38 282.5L375.62 302.5L415 279" fill="none" stroke="#333" stroke-width="0.85"/>
<path d="M381.25 279.38L429.38 306.5" fill="none" stroke="#333" stroke-width="0.85"/>
<path d="M435 302L429.38 306.5L406.25 322.25" fill="none" stroke="#333" stroke-width="0.85"/>
<path d="M435 303.75L431 306.75" fill="none" stroke="#333" stroke-width="0.85"/>
<path d="M343.75 296.5L339.38 299" fill="none" stroke="#333" stroke-width="0.85"/>
<path d="M353.12 301.5L339.38 310.25" fill="none" stroke="#333" stroke-width="0.85"/>
<path d="M363.12 306.25L342.5 319" fill="none" stroke="#333" stroke-width="0.85"/>
<path d="M370 310.62L347.5 324.5" fill="none" stroke="#333" stroke-width="0.85"/>
<path d="M374.38 316.25L356.25 327.75" fill="none" stroke="#333" stroke-width="0.85"/>
<path d="M385 320.62L366.25 332.75" fill="none" stroke="#333" stroke-width="0.85"/>
<path d="M394.38 326.5L375 338.75" fill="none" stroke="#333" stroke-width="0.85"/>
<path d="M395.62 328.75L376.5 340.75" fill="none" stroke="#333" stroke-width="0.85"/>
<path d="M405 330.62L387.5 341.5" fill="none" stroke="#333" stroke-width="0.85"/>
<path d="M418.5 336.88L400 348.75" fill="none" stroke="#333" stroke-width="0.85"/>
<ellipse cx="339.75" cy="322.5" rx="3.12" ry="3.88" fill="#222" stroke="none" transform="rotate(17 339.75 322.5)"/>
<ellipse cx="344.75" cy="325.62" rx="2" ry="2.75" fill="none" stroke="#111" stroke-width="1.15" transform="rotate(17 344.75 325.62)"/>
<ellipse cx="352.88" cy="330.25" rx="2.5" ry="3.5" fill="none" stroke="#111" stroke-width="1.2" transform="rotate(17 352.88 330.25)"/>
<ellipse cx="362.75" cy="336" rx="3.25" ry="4.25" fill="#1a1a1a" stroke="none" transform="rotate(17 362.75 336)"/>
<ellipse cx="363" cy="336" rx="1.62" ry="2.5" fill="#eee" stroke="none" transform="rotate(17 363 336)"/>
<ellipse cx="363" cy="336" rx="0.75" ry="1.25" fill="#555" stroke="none" transform="rotate(17 363 336)"/>
<ellipse cx="372.25" cy="341.5" rx="1.75" ry="2" fill="#1a1a1a" stroke="none" transform="rotate(17 372.25 341.5)"/>
<path d="M347.5 327.25L350.25 328.75" fill="none" stroke="#444" stroke-width="0.7"/>
<path d="M355.62 331.75L359.75 334.25" fill="none" stroke="#444" stroke-width="0.7"/>
<path d="M366 337.75L370.5 340.5" fill="none" stroke="#444" stroke-width="0.7"/>
<path d="M374 342.5L376.25 344" fill="none" stroke="#444" stroke-width="0.7"/>
<path d="M361.62 371.88L384.5 355.75" fill="none" stroke="#333" stroke-width="0.85"/>
<ellipse cx="385.25" cy="355.12" rx="1" ry="1" fill="#1a1a1a" stroke="none"/>
<path d="M435 344.38L413.75 360" fill="none" stroke="#333" stroke-width="0.85"/>
</g>
<g clip-path="url(#c16)">
<path d="M405.38 331L388 341.88" fill="none" stroke="#333" stroke-width="0.85"/>
<path d="M418.5 336.25L401.75 348.12" fill="none" stroke="#333" stroke-width="0.85"/>
<path d="M433.5 345.62L417.25 357.5" fill="none" stroke="#333" stroke-width="0.85"/>
<path d="M361.62 371.88L384.25 355.75" fill="none" stroke="#333" stroke-width="0.85"/>
<ellipse cx="385" cy="355.12" rx="1" ry="1" fill="#1a1a1a" stroke="none"/>
<path d="M355.38 380L389.12 400" fill="none" stroke="#333" stroke-width="0.85"/>
<path d="M421 370L451 386.75" fill="none" stroke="#333" stroke-width="0.85"/>
<path d="M391 366.88L378.5 374.75L389.12 381.5L393.25 379.75" fill="none" stroke="#333" stroke-width="0.85"/>
<ellipse cx="391.75" cy="366.62" rx="0.88" ry="0.88" fill="#1a1a1a" stroke="none"/>
<ellipse cx="393.75" cy="379.75" rx="0.88" ry="0.88" fill="#1a1a1a" stroke="none"/>
<path d="M404.5 373.5L401.25 375.25" fill="none" stroke="#444" stroke-width="0.7"/>
<path d="M402.88 378.75L412.88 387.5L401.62 396" fill="none" stroke="#333" stroke-width="0.85"/>
<path d="M393.5 390.62L397.88 387.5" fill="none" stroke="#333" stroke-width="0.85"/>
<path d="M381 382.5L382.88 380" fill="none" stroke="#333" stroke-width="0.85"/>
</g>
<g clip-path="url(#c17)">
<path d="M449.38 292.38L477.5 274.5" fill="none" stroke="#333" stroke-width="0.85"/>
<path d="M481.88 271.5L498.12 261.5" fill="none" stroke="#333" stroke-width="0.85"/>
<path d="M449.38 294.75L477.5 311.38L491.25 320.75L515 333.5L530 342" fill="none" stroke="#333" stroke-width="0.85"/>
<path d="M493.75 280.75L501.88 275.12L511.25 278.88L518.12 284.5L511.25 290.12" fill="none" stroke="#333" stroke-width="0.85"/>
<path d="M511.25 278.88L514.38 277" fill="none" stroke="#333" stroke-width="0.85"/>
<path d="M470.62 287.62L476.88 282.5" fill="none" stroke="#333" stroke-width="0.85"/>
<ellipse cx="477.25" cy="282.25" rx="0.75" ry="0.75" fill="#1a1a1a" stroke="none"/>
<ellipse cx="476.88" cy="295.75" rx="0.88" ry="0.88" fill="#1a1a1a" stroke="none"/>
<path d="M477.25 282L477.25 305.12" fill="none" stroke="#333" stroke-width="0.9"/>
<path d="M477.25 312L477.25 342" fill="none" stroke="#333" stroke-width="0.9"/>
<path d="M484.38 327L484.38 342" fill="none" stroke="#444" stroke-width="0.8"/>
<ellipse cx="473.5" cy="337" rx="1" ry="1" fill="#1a1a1a" stroke="none"/>
</g>
<g clip-path="url(#c18)">
<path d="M515 332.5L536.88 345.62L462.5 393.75L449.38 386.5" fill="none" stroke="#333" stroke-width="0.85"/>
<path d="M462.5 393.75L454.38 400" fill="none" stroke="#333" stroke-width="0.85"/>
<path d="M473.12 339.38L463.12 345.62L476.88 353.75L481.25 351.25" fill="none" stroke="#333" stroke-width="0.85"/>
<ellipse cx="473.12" cy="337" rx="1" ry="1" fill="#1a1a1a" stroke="none"/>
<path d="M473.12 337.5L473.12 340" fill="none" stroke="#333" stroke-width="0.8"/>
<path d="M490 363.75L495 359.5" fill="none" stroke="#333" stroke-width="0.85"/>
<path d="M495.25 353.75L495.25 363.75" fill="none" stroke="#222" stroke-width="1"/>
<path d="M477.25 320L477.25 340" fill="none" stroke="#333" stroke-width="0.9"/>
<path d="M484.38 322.5L484.38 350" fill="none" stroke="#444" stroke-width="0.8"/>
<path d="M499.38 332.5L499.38 356.25" fill="none" stroke="#444" stroke-width="0.8"/>
<path d="M481.88 349.38L483.75 338.75L491.25 333.75L493.75 335L494.38 340.62L496.62 341.62" fill="none" stroke="#222" stroke-width="2.2" stroke-linejoin="round"/>
<path d="M481.88 349.38L483.75 338.75L491.25 333.75L493.75 335L494.38 340.62L496.62 341.62" fill="none" stroke="#eee" stroke-width="0.8" stroke-linejoin="round"/>
<path d="M480.12 349.12L483.38 350.12" fill="none" stroke="#222" stroke-width="1.6"/>
<path d="M494.38 341.62L497.5 342.5" fill="none" stroke="#222" stroke-width="1.6"/>
<path d="M496.5 357.25L498.38 346.62L505.88 341.62L508.38 342.88L509 348.5L511.25 349.5" fill="none" stroke="#222" stroke-width="2.2" stroke-linejoin="round"/>
<path d="M496.5 357.25L498.38 346.62L505.88 341.62L508.38 342.88L509 348.5L511.25 349.5" fill="none" stroke="#eee" stroke-width="0.8" stroke-linejoin="round"/>
<path d="M494.75 357L498 358" fill="none" stroke="#222" stroke-width="1.6"/>
<path d="M509 349.5L512.12 350.38" fill="none" stroke="#222" stroke-width="1.6"/>
<ellipse cx="488.12" cy="346.25" rx="1" ry="1" fill="#1a1a1a" stroke="none"/>
<path d="M488.12 346.88L488.12 349" fill="none" stroke="#333" stroke-width="0.8"/>
<path d="M488.12 349L496.25 353.25" fill="none" stroke="#333" stroke-width="0.85"/>
<path d="M492.5 330L496.88 335.75" fill="none" stroke="#222" stroke-width="0.9"/>
<path d="M496.88 332.75L504.38 338L514.38 332.25L515 327.5" fill="none" stroke="#222" stroke-width="1" stroke-linejoin="round"/>
<path d="M504.38 338L503.75 332.5" fill="none" stroke="#222" stroke-width="0.9"/>
</g>
<g clip-path="url(#c19)">
<path d="M321.88 382.62L317.25 384.75" fill="none" stroke="#333" stroke-width="0.85"/>
<path d="M330.62 385.5L320 392" fill="none" stroke="#333" stroke-width="0.85"/>
<path d="M340 390.12L326.88 397.62" fill="none" stroke="#333" stroke-width="0.85"/>
<path d="M349.38 395.75L337.5 402.62" fill="none" stroke="#333" stroke-width="0.85"/>
<path d="M358.75 400.5L346.25 408.25" fill="none" stroke="#333" stroke-width="0.85"/>
<path d="M364.38 405.5L355 410.12" fill="none" stroke="#333" stroke-width="0.85"/>
<path d="M374.75 410.75L366.88 415.12" fill="none" stroke="#333" stroke-width="0.85"/>
<path d="M383.5 415.75L369.38 423.25" fill="none" stroke="#333" stroke-width="0.85"/>
<path d="M299.38 387.25L311.88 394.5" fill="none" stroke="#333" stroke-width="0.85"/>
<path d="M341.25 371.38L395 402.62" fill="none" stroke="#333" stroke-width="0.85"/>
<path d="M355 418.88L360 421.38" fill="none" stroke="#444" stroke-width="0.7"/>
<path d="M368.75 425.75L373.12 428.25" fill="none" stroke="#444" stroke-width="0.7"/>
<path d="M382.5 372L377.75 375L389.38 381.75L395 378.88" fill="none" stroke="#333" stroke-width="0.85"/>
<path d="M382.5 380.12L380 382" fill="none" stroke="#333" stroke-width="0.85"/>
<path d="M299.38 424.75L305 421.38" fill="none" stroke="#333" stroke-width="0.85"/>
<path d="M311.88 425.12L307.5 428.25" fill="none" stroke="#333" stroke-width="0.85"/>
<path d="M320 430.5L310 436.38" fill="none" stroke="#333" stroke-width="0.85"/>
<path d="M310 441.38L314 444" fill="none" stroke="#444" stroke-width="0.7"/>
<path d="M339 419L340.75 420.25" fill="none" stroke="#222" stroke-width="1.8"/>
<path d="M341.25 423.5L340.25 420.5" fill="none" stroke="#333" stroke-width="0.85"/>
<path d="M340.62 419.75L346.5 418.25" fill="none" stroke="#444" stroke-width="0.7"/>
</g>
<g clip-path="url(#c20)">
<path d="M227.25 436.25L209.12 426.5L244.75 403.12L251 399.38" fill="none" stroke="#333" stroke-width="0.85"/>
<path d="M237.88 399.38L244.75 403.12L277.25 421.88" fill="none" stroke="#333" stroke-width="0.85"/>
<path d="M240.75 423.75L231 429" fill="none" stroke="#333" stroke-width="0.85"/>
<path d="M276.62 443.75L268 448.75" fill="none" stroke="#333" stroke-width="0.85"/>
<path d="M286.62 411.88L282.5 414" fill="none" stroke="#333" stroke-width="0.85"/>
<path d="M294.75 418.12L286 423.12" fill="none" stroke="#333" stroke-width="0.85"/>
<path d="M217.88 451.88L227.25 445.75" fill="none" stroke="#333" stroke-width="0.85"/>
<path d="M224.75 456.88L235.5 448.75" fill="none" stroke="#333" stroke-width="0.85"/>
<path d="M231.62 460.62L243.5 452.75" fill="none" stroke="#333" stroke-width="0.85"/>
<path d="M236.62 464.75L249.75 456.5" fill="none" stroke="#333" stroke-width="0.85"/>
<path d="M246.62 468.12L256.62 460.88" fill="none" stroke="#333" stroke-width="0.85"/>
<path d="M256 473.12L262.25 467" fill="none" stroke="#333" stroke-width="0.85"/>
<path d="M263.5 476.88L268 467.75" fill="none" stroke="#333" stroke-width="0.85"/>
<path d="M238.5 438.5L263.75 453.5" fill="none" stroke="#333" stroke-width="0.8"/>
<path d="M237.25 441.25L262.25 455.75" fill="none" stroke="#333" stroke-width="0.8"/>
<path d="M235.75 443.75L261 458.5" fill="none" stroke="#333" stroke-width="0.8"/>
<path d="M235 445.75L259.75 460.25" fill="none" stroke="#555" stroke-width="0.7"/>
<path d="M235.5 447.75L238 449.25" fill="none" stroke="#222" stroke-width="2" stroke-linecap="round"/>
<ellipse cx="243.5" cy="452.5" rx="0.88" ry="0.88" fill="#1a1a1a" stroke="none"/>
<ellipse cx="250" cy="456.38" rx="1" ry="1" fill="#1a1a1a" stroke="none"/>
<ellipse cx="256.62" cy="460.12" rx="0.88" ry="0.88" fill="#1a1a1a" stroke="none"/>
<path d="M282 414L282 418.75" fill="none" stroke="#222" stroke-width="1"/>
<ellipse cx="282" cy="413.75" rx="0.75" ry="0.75" fill="#1a1a1a" stroke="none"/>
<ellipse cx="268.5" cy="467" rx="1.12" ry="1.12" fill="#1a1a1a" stroke="none"/>
<ellipse cx="275.5" cy="470.75" rx="1.5" ry="1.5" fill="#1a1a1a" stroke="none"/>
<path d="M275.5 471.88L275.5 475" fill="none" stroke="#333" stroke-width="0.8"/>
<path d="M268.25 468.12L267 475L264.75 477.5" fill="none" stroke="#444" stroke-width="0.8"/>
<path d="M271.25 463.75L287.88 472.75" fill="none" stroke="#333" stroke-width="0.85"/>
<path d="M287 427.75L290 429.5" fill="none" stroke="#444" stroke-width="0.7"/>
</g>
<g clip-path="url(#c21)">
<path d="M325 525.88L313.75 525.88" fill="none" stroke="#111" stroke-width="1.2"/>
<path d="M269.38 464L288.75 473.25" fill="none" stroke="#333" stroke-width="0.85"/>
<path d="M282.5 490.62L293.75 497.5" fill="none" stroke="#333" stroke-width="0.85"/>
<ellipse cx="275.25" cy="470" rx="1.5" ry="1.5" fill="#1a1a1a" stroke="none"/>
<path d="M275.25 471L275.75 476.88L269.38 481.5" fill="none" stroke="#444" stroke-width="0.8"/>
<ellipse cx="281.25" cy="480" rx="1.62" ry="1.62" fill="#1a1a1a" stroke="none"/>
<path d="M281.25 481.25L281.25 486.5" fill="none" stroke="#333" stroke-width="1.4"/>
<path d="M269.38 510.75L300.62 528.12L304.38 530.25" fill="none" stroke="#333" stroke-width="0.85"/>
<path d="M293.75 500L293.75 530" fill="none" stroke="#888" stroke-width="0.8"/>
</g>
<g clip-path="url(#c22)">
<path d="M256.38 555.24L264.96 546.83" fill="none" stroke="#333" stroke-width="0.85"/>
<path d="M324.81 580.8L242.86 534.3L242.86 527.21L269.57 510.72L352.02 556.89L352.35 564.64L349.38 562.99L349.38 558.7" fill="none" stroke="#222" stroke-width="0.9" stroke-linejoin="round"/>
<path d="M242.86 527.21L324.81 572.55L352.02 556.89" fill="none" stroke="#222" stroke-width="0.9"/>
<path d="M324.81 572.55L324.81 580.8" fill="none" stroke="#222" stroke-width="1"/>
<ellipse cx="255.06" cy="541.55" rx="4.45" ry="1.98" fill="#333" stroke="none" transform="rotate(20 255.06 541.55)"/>
<ellipse cx="254.4" cy="540.89" rx="2.31" ry="1.15" fill="#999" stroke="none" transform="rotate(20 254.4 540.89)"/>
<path d="M251.44 541.88L258.69 543.53" fill="none" stroke="#222" stroke-width="1.2"/>
<ellipse cx="282.11" cy="557.38" rx="4.45" ry="1.98" fill="#333" stroke="none" transform="rotate(20 282.11 557.38)"/>
<ellipse cx="281.45" cy="556.72" rx="2.31" ry="1.15" fill="#999" stroke="none" transform="rotate(20 281.45 556.72)"/>
<path d="M278.48 557.71L285.73 559.36" fill="none" stroke="#222" stroke-width="1.2"/>
<ellipse cx="309.15" cy="572.88" rx="4.45" ry="1.98" fill="#333" stroke="none" transform="rotate(20 309.15 572.88)"/>
<ellipse cx="308.49" cy="572.22" rx="2.31" ry="1.15" fill="#999" stroke="none" transform="rotate(20 308.49 572.22)"/>
<path d="M305.52 573.21L312.78 574.86" fill="none" stroke="#222" stroke-width="1.2"/>
<ellipse cx="294.31" cy="549.8" rx="0.82" ry="0.82" fill="#222" stroke="none"/>
<ellipse cx="312.45" cy="539.9" rx="0.82" ry="0.82" fill="#222" stroke="none"/>
<ellipse cx="330.26" cy="550.29" rx="0.82" ry="0.82" fill="#222" stroke="none"/>
<ellipse cx="312.12" cy="560.68" rx="0.82" ry="0.82" fill="#222" stroke="none"/>
<path d="M294.31 509.89L294.31 549.47" fill="none" stroke="#888" stroke-width="0.8"/>
</g>
<g clip-path="url(#c23)">
<path d="M431.88 201.88L467.5 222.5" fill="none" stroke="#333" stroke-width="0.85"/>
<path d="M441.25 205L449.38 199.75" fill="none" stroke="#333" stroke-width="0.85"/>
<path d="M475.62 205.25L469.5 208.5" fill="none" stroke="#333" stroke-width="0.85"/>
<ellipse cx="468.5" cy="223.5" rx="2.2" ry="2.75" fill="#1a1a1a" stroke="none" transform="rotate(17 468.5 223.5)"/>
<ellipse cx="468.62" cy="223.5" rx="0.5" ry="0.88" fill="#666" stroke="none" transform="rotate(17 468.62 223.5)"/>
<ellipse cx="473.12" cy="226.5" rx="2.75" ry="3.3" fill="#1a1a1a" stroke="none" transform="rotate(17 473.12 226.5)"/>
<ellipse cx="473.25" cy="226.5" rx="0.62" ry="1.05" fill="#666" stroke="none" transform="rotate(17 473.25 226.5)"/>
<ellipse cx="478.5" cy="229.5" rx="3.03" ry="3.58" fill="#1a1a1a" stroke="none" transform="rotate(17 478.5 229.5)"/>
<ellipse cx="478.62" cy="229.5" rx="0.69" ry="1.14" fill="#666" stroke="none" transform="rotate(17 478.62 229.5)"/>
<ellipse cx="484.5" cy="232.25" rx="2.34" ry="2.75" fill="#1a1a1a" stroke="none" transform="rotate(17 484.5 232.25)"/>
<ellipse cx="484.62" cy="232.25" rx="0.53" ry="0.88" fill="#666" stroke="none" transform="rotate(17 484.62 232.25)"/>
<path d="M482.5 218.12L475.75 222.5" fill="none" stroke="#333" stroke-width="0.85"/>
<path d="M468.12 225L458.75 230.62L468.12 236.5L476.5 231.88" fill="none" stroke="#333" stroke-width="0.85"/>
<path d="M459.75 237.5L463.12 235.25" fill="none" stroke="#333" stroke-width="0.85"/>
<path d="M472.5 242.5L481.25 234.5" fill="none" stroke="#333" stroke-width="0.85"/>
<path d="M493.12 228.5L492.5 233.25" fill="none" stroke="#333" stroke-width="0.85"/>
<path d="M487.5 232.75L495 236" fill="none" stroke="#444" stroke-width="0.7"/>
<path d="M411.5 226L403.75 230" fill="none" stroke="#333" stroke-width="0.85"/>
<path d="M407.5 236.88L415 232.75L418.12 234.75" fill="none" stroke="#333" stroke-width="0.85"/>
<ellipse cx="418.75" cy="235.12" rx="1.25" ry="1.25" fill="#1a1a1a" stroke="none"/>
<path d="M423.5 232.25L420 234.25" fill="none" stroke="#333" stroke-width="0.85"/>
<path d="M431.25 238.12C429.79 238.85 425.31 241.4 422.5 242.5C419.69 243.6 415.73 244.38 414.38 244.75" fill="none" stroke="#444" stroke-width="0.8"/>
<path d="M412.5 244L415 245.25" fill="none" stroke="#333" stroke-width="1.6"/>
<path d="M407.5 241.25L413.25 244.5" fill="none" stroke="#333" stroke-width="0.85"/>
<path d="M403.75 250L431.88 265.62L410.62 280" fill="none" stroke="#333" stroke-width="0.85"/>
<path d="M495 264.5L481.25 272" fill="none" stroke="#333" stroke-width="0.85"/>
<path d="M477.5 274.75L469.38 279.5" fill="none" stroke="#333" stroke-width="0.85"/>
</g>
<g clip-path="url(#c24)">
<path d="M519.38 210.62L523.12 209" fill="none" stroke="#333" stroke-width="0.85"/>
<path d="M533.75 214.75L540 209.75" fill="none" stroke="#333" stroke-width="0.85"/>
<path d="M542.5 209.38L561.88 220L515 250L481.88 271.5" fill="none" stroke="#333" stroke-width="0.85"/>
<path d="M495 237.5L515 250" fill="none" stroke="#333" stroke-width="0.85"/>
<ellipse cx="482.75" cy="232.25" rx="2.34" ry="2.75" fill="#1a1a1a" stroke="none" transform="rotate(17 482.75 232.25)"/>
<ellipse cx="482.88" cy="232.25" rx="0.53" ry="0.88" fill="#666" stroke="none" transform="rotate(17 482.88 232.25)"/>
<path d="M498.75 225.62C497.88 226.1 494.65 227.15 493.5 228.5C492.35 229.85 492.15 232.88 491.88 233.75" fill="none" stroke="#444" stroke-width="0.8"/>
<path d="M505.62 230L495.75 236" fill="none" stroke="#333" stroke-width="0.85"/>
<ellipse cx="494.75" cy="236.5" rx="1.12" ry="1.12" fill="#1a1a1a" stroke="none"/>
<path d="M486.25 232.75L494 236.5" fill="none" stroke="#444" stroke-width="0.7"/>
<path d="M485.62 234L493.12 237.5" fill="none" stroke="#444" stroke-width="0.7"/>
<path d="M490 279.5L501.88 275.25L510.62 280" fill="none" stroke="#333" stroke-width="0.85"/>
<path d="M511.25 278.12L515.25 275.62" fill="none" stroke="#333" stroke-width="0.85"/>
</g>
<g clip-path="url(#c25)">
<path d="M283 345.25L217.38 387.5L253.62 408.5" fill="none" stroke="#333" stroke-width="0.85"/>
<path d="M237.38 408.5L283 379" fill="none" stroke="#333" stroke-width="0.85"/>
</g>
<g clip-path="url(#c26)">
<path d="M261.38 359.38L289.5 341.5L357 380.25" fill="none" stroke="#333" stroke-width="0.85"/>
<path d="M261.38 393L284.5 378L312 393.5" fill="none" stroke="#333" stroke-width="0.85"/>
</g>
<g clip-path="url(#c27)">
<path d="M379.75 394.25L423.25 419.12L462.88 394.25" fill="none" stroke="#333" stroke-width="0.85"/>
<path d="M381 416.25L375.38 419.75" fill="none" stroke="#333" stroke-width="0.85"/>
</g>
<g clip-path="url(#c28)">
<path d="M463.4 47.1L541 87.25" fill="none" stroke="#333" stroke-width="0.85"/>
<path d="M406 322.4L562 220" fill="none" stroke="#333" stroke-width="0.85"/>
<path d="M428.75 305.1L447.5 294.25" fill="none" stroke="#333" stroke-width="0.85"/>
<path d="M209.6 123.7L242.5 105" fill="none" stroke="#333" stroke-width="0.85"/>
</g>
<path d="M234.77 138.13L229.66 147.06L228.26 152.81L229.02 159.19L232.21 164.3L230.3 166.85L230.3 168.77L239.87 174.83L241.15 173.23L243.06 170.68L247.53 167.49L252.64 165.89L257.74 162.06L260.94 155.68L262.34 150.25L261.57 146.43L257.74 141.96L255.83 138.77L255.83 136.53L245.3 131.11L234.77 136.53Z" fill="#fff" stroke="none"/>
<path d="M235.08 141C234.23 142.01 231.1 145.1 229.98 147.06C228.86 149.03 228.52 150.79 228.38 152.81C228.24 154.83 228.46 157.17 229.15 159.19C229.84 161.21 231.97 163.98 232.53 164.94" fill="none" stroke="#1a1a1a" stroke-width="1.3"/>
<path d="M237.32 142.6C236.57 143.45 233.81 145.89 232.85 147.7C231.89 149.51 231.63 151.53 231.57 153.45C231.52 155.36 231.84 157.38 232.53 159.19C233.22 161 235.19 163.45 235.72 164.3" fill="none" stroke="#222" stroke-width="1.1"/>
<ellipse cx="229.53" cy="147.06" rx="0.64" ry="0.89" fill="#1a1a1a" stroke="none"/>
<ellipse cx="228.38" cy="152.81" rx="0.64" ry="0.89" fill="#1a1a1a" stroke="none"/>
<ellipse cx="229.15" cy="157.91" rx="0.64" ry="0.89" fill="#1a1a1a" stroke="none"/>
<ellipse cx="231.57" cy="163.02" rx="0.64" ry="0.89" fill="#1a1a1a" stroke="none"/>
<ellipse cx="234.13" cy="145.15" rx="0.64" ry="0.89" fill="#1a1a1a" stroke="none"/>
<path d="M237.96 144.51C238.49 145.68 240.72 149.51 241.15 151.53C241.57 153.55 240.51 154.72 240.51 156.64C240.51 158.55 241.04 161.96 241.15 163.02" fill="none" stroke="#1a1a1a" stroke-width="1.8"/>
<path d="M246.57 144.51C246.1 145.68 244.39 149.51 243.7 151.53C243.01 153.55 242.64 154.94 242.43 156.64C242.21 158.34 242.43 160.89 242.43 161.74" fill="none" stroke="#1a1a1a" stroke-width="1.6"/>
<path d="M241.15 147.06C240.72 148.02 239.13 151 238.6 152.81C238.06 154.62 238.06 157.06 237.96 157.91" fill="none" stroke="#333" stroke-width="1"/>
<path d="M233.49 151.53L238.6 154.72L237.96 159.19" fill="none" stroke="#333" stroke-width="1"/>
<path d="M234.77 156.64L240.51 160.47" fill="none" stroke="#222" stroke-width="1.4"/>
<path d="M236.04 161.74L241.15 164.94L243.7 163.66" fill="none" stroke="#222" stroke-width="1.4"/>
<path d="M243.7 161.74L246.25 163.66L248.81 162.38" fill="none" stroke="#1a1a1a" stroke-width="1.6"/>
<path d="M255.83 141.15L257.08 141.25L258.25 141.69L259.31 142.45L260.23 143.52L260.99 144.86L261.57 146.45L261.96 148.24L262.14 150.19L262.1 152.25L261.86 154.36L261.42 156.48L260.79 158.54L259.98 160.49L259.01 162.29L257.92 163.89L256.72 165.25L255.45 166.33L254.14 167.1L252.83 167.55L251.54 167.66L250.31 167.44L249.18 166.88L248.17 166L247.3 164.83" fill="none" stroke="#1a1a1a" stroke-width="2" stroke-linecap="round" stroke-linejoin="round"/>
<path d="M254.93 142.16L255.95 142.39L256.9 142.89L257.74 143.64L258.47 144.63L259.07 145.84L259.52 147.24L259.82 148.79L259.96 150.47L259.93 152.24L259.73 154.06L259.38 155.88L258.87 157.67L258.22 159.39L257.45 161L256.56 162.46L255.59 163.74L254.54 164.82L253.46 165.66L252.35 166.26L251.24 166.59L250.17 166.65L249.14 166.44L248.19 165.96L247.34 165.23" fill="none" stroke="#333" stroke-width="0.9" stroke-linecap="round" stroke-linejoin="round"/>
<path d="M254.81 143.68L255.48 144.22L256.07 144.93L256.58 145.8L256.99 146.82L257.3 147.97L257.51 149.22L257.6 150.57L257.58 151.98L257.45 153.44L257.21 154.91L256.86 156.37L256.41 157.8L255.88 159.17L255.26 160.46L254.56 161.64L253.81 162.7L253.01 163.62L252.18 164.39L251.32 164.98L250.46 165.39L249.62 165.61L248.79 165.64L248.01 165.48L247.27 165.12" fill="none" stroke="#555" stroke-width="0.7" stroke-linecap="round" stroke-linejoin="round"/>
<ellipse cx="262.34" cy="150.25" rx="0.57" ry="0.83" fill="#1a1a1a" stroke="none"/>
<ellipse cx="260.3" cy="145.15" rx="0.57" ry="0.83" fill="#1a1a1a" stroke="none"/>
<ellipse cx="259.66" cy="159.83" rx="0.57" ry="0.83" fill="#1a1a1a" stroke="none"/>
<ellipse cx="255.19" cy="165.06" rx="0.57" ry="0.83" fill="#1a1a1a" stroke="none"/>
<ellipse cx="249.45" cy="167.49" rx="0.57" ry="0.83" fill="#1a1a1a" stroke="none"/>
<path d="M246.25 156.64L252.64 161.74" fill="none" stroke="#444" stroke-width="0.8"/>
<path d="M245.62 159.19L250.72 163.34" fill="none" stroke="#444" stroke-width="0.8"/>
<path d="M247.53 154.72L253.91 159.19" fill="none" stroke="#555" stroke-width="0.7"/>
<path d="M252 145.15C251.47 146 249.55 148.55 248.81 150.25C248.06 151.96 247.64 153.66 247.53 155.36C247.42 157.06 248.06 159.62 248.17 160.47" fill="none" stroke="#222" stroke-width="1.2"/>
<path d="M231.57 150.25L236.68 152.81" fill="none" stroke="#222" stroke-width="1.2"/>
<path d="M230.94 154.72L237.32 157.91" fill="none" stroke="#222" stroke-width="1.2"/>
<path d="M232.85 160.47L237.96 163.66" fill="none" stroke="#222" stroke-width="1.2"/>
<path d="M235.72 145.15L234.13 150.25L234.77 156L237.32 161.74" fill="none" stroke="#222" stroke-width="1.2" stroke-linejoin="round"/>
<path d="M243.06 147.06L241.15 153.45L241.79 159.19" fill="none" stroke="#333" stroke-width="1.2" stroke-linejoin="round"/>
<path d="M248.17 161.74L252 164.3" fill="none" stroke="#1a1a1a" stroke-width="2.2"/>
<path d="M256.47 161.74L259.34 163.66" fill="none" stroke="#1a1a1a" stroke-width="2"/>
<ellipse cx="245.3" cy="138" rx="10.6" ry="5.49" fill="#fff" stroke="#1a1a1a" stroke-width="1"/>
<path d="M234.77 136.53L234.77 138.26" fill="none" stroke="#1a1a1a" stroke-width="1"/>
<path d="M255.83 136.53L255.83 138.26" fill="none" stroke="#1a1a1a" stroke-width="1"/>
<ellipse cx="245.3" cy="136.53" rx="10.6" ry="5.49" fill="#fff" stroke="#1a1a1a" stroke-width="1"/>
<ellipse cx="245.3" cy="136.53" rx="9.57" ry="4.72" fill="none" stroke="#666" stroke-width="0.6"/>
<ellipse cx="245.3" cy="136.53" rx="5.62" ry="2.94" fill="none" stroke="#333" stroke-width="1"/>
<ellipse cx="245.3" cy="136.53" rx="2.94" ry="1.53" fill="none" stroke="#222" stroke-width="1.2"/>
<ellipse cx="245.3" cy="136.53" rx="0.89" ry="0.51" fill="#333" stroke="none"/>
<ellipse cx="237.32" cy="136.98" rx="0.77" ry="0.45" fill="#333" stroke="none"/>
<ellipse cx="252.77" cy="136.72" rx="0.77" ry="0.45" fill="#333" stroke="none"/>
<ellipse cx="244.47" cy="132.89" rx="0.77" ry="0.45" fill="#333" stroke="none"/>
<ellipse cx="244.98" cy="140.81" rx="0.77" ry="0.45" fill="#333" stroke="none"/>
<path d="M237.32 142.72L245.3 144.51L253.91 142.28" fill="none" stroke="#1a1a1a" stroke-width="1.6" stroke-linejoin="round"/>
<path d="M230.3 166.4L232.85 165.13L242.43 170.87L242.43 172.91L239.87 174.83L230.3 168.45Z" fill="#fff" stroke="#1a1a1a" stroke-width="1.1" stroke-linejoin="round"/>
<path d="M230.3 166.4L239.87 172.79L242.43 170.87" fill="none" stroke="#1a1a1a" stroke-width="1"/>
<path d="M239.87 172.79L239.87 174.83" fill="none" stroke="#1a1a1a" stroke-width="1"/>
<path d="M233.49 164.3L234.77 166.85" fill="none" stroke="#1a1a1a" stroke-width="1.6"/>
<path d="M238.6 166.85L240.51 170.68" fill="none" stroke="#1a1a1a" stroke-width="2"/>
<path d="M243.06 167.49L244.34 171" fill="none" stroke="#1a1a1a" stroke-width="2"/>
<ellipse cx="282.38" cy="179.25" rx="4.62" ry="7" fill="none" stroke="#1a1a1a" stroke-width="1.7" transform="rotate(17 282.38 179.25)"/>
<ellipse cx="308.25" cy="195.25" rx="10" ry="12.75" fill="#fff" stroke="#1a1a1a" stroke-width="1.5" transform="rotate(17 308.25 195.25)"/>
<ellipse cx="309.5" cy="195" rx="9.5" ry="12.25" fill="none" stroke="#333" stroke-width="1" transform="rotate(17 309.5 195)"/>
<ellipse cx="310.25" cy="195.25" rx="6.25" ry="8.25" fill="none" stroke="#555" stroke-width="0.8" transform="rotate(17 310.25 195.25)"/>
<ellipse cx="310.5" cy="195.25" rx="4.5" ry="6" fill="none" stroke="#222" stroke-width="1.4" transform="rotate(17 310.5 195.25)"/>
<ellipse cx="310.5" cy="195.25" rx="3" ry="4" fill="#333" stroke="none" transform="rotate(17 310.5 195.25)"/>
<ellipse cx="310.5" cy="195.25" rx="1.25" ry="1.75" fill="#aaa" stroke="none" transform="rotate(17 310.5 195.25)"/>
<ellipse cx="339.38" cy="190" rx="2.2" ry="2.75" fill="#1a1a1a" stroke="none" transform="rotate(17 339.38 190)"/>
<ellipse cx="339.5" cy="190" rx="0.5" ry="0.88" fill="#666" stroke="none" transform="rotate(17 339.5 190)"/>
<ellipse cx="343.12" cy="192.38" rx="2.48" ry="3.03" fill="#1a1a1a" stroke="none" transform="rotate(17 343.12 192.38)"/>
<ellipse cx="343.25" cy="192.38" rx="0.56" ry="0.96" fill="#666" stroke="none" transform="rotate(17 343.25 192.38)"/>
<ellipse cx="346.88" cy="194.75" rx="2.48" ry="3.03" fill="#1a1a1a" stroke="none" transform="rotate(17 346.88 194.75)"/>
<ellipse cx="347" cy="194.75" rx="0.56" ry="0.96" fill="#666" stroke="none" transform="rotate(17 347 194.75)"/>
<ellipse cx="350" cy="196.5" rx="1.93" ry="2.48" fill="#1a1a1a" stroke="none" transform="rotate(17 350 196.5)"/>
<ellipse cx="350.12" cy="196.5" rx="0.44" ry="0.79" fill="#666" stroke="none" transform="rotate(17 350.12 196.5)"/>
<path d="M283.62 193.25L289.38 186.62" fill="none" stroke="#333" stroke-width="0.85"/>
<path d="M531.53 120.81L538.18 117.32L541.5 118.82L543.16 129.79L540.84 133.94L538.18 136.44" fill="none" stroke="#3a3a3a" stroke-width="1.4" stroke-linecap="round" stroke-linejoin="round"/>
<path d="M531.53 120.81L538.18 117.32L541.5 118.82L543.16 129.79L540.84 133.94L538.18 136.44" fill="none" stroke="#eee" stroke-width="0.4" stroke-linecap="round" stroke-linejoin="round"/>
<path d="M528.2 123.14L530.2 121.81" fill="none" stroke="#1a1a1a" stroke-width="3" stroke-linecap="round"/>
<path d="M535.52 141.09L537.18 139.43" fill="none" stroke="#1a1a1a" stroke-width="3.2" stroke-linecap="round"/>
<ellipse cx="466.25" cy="162.75" rx="8" ry="11.25" fill="none" stroke="#111" stroke-width="1.7" transform="rotate(17 466.25 162.75)"/>
<path d="M461.25 192.75L467 189L470 190L472 202.5L469.5 208L466.5 210.5" fill="none" stroke="#3a3a3a" stroke-width="1.6" stroke-linecap="round" stroke-linejoin="round"/>
<path d="M461.25 192.75L467 189L470 190L472 202.5L469.5 208L466.5 210.5" fill="none" stroke="#eee" stroke-width="0.6" stroke-linecap="round" stroke-linejoin="round"/>
<path d="M457 195.5L459.5 194" fill="none" stroke="#1a1a1a" stroke-width="3" stroke-linecap="round"/>
<path d="M464.5 212.25L466.5 210.5" fill="none" stroke="#1a1a1a" stroke-width="3.2" stroke-linecap="round"/>
<path d="M335 187.5L338.75 189.38" fill="none" stroke="#333" stroke-width="0.85"/>
<path d="M347.5 190L353.75 193.12L351.25 196.25" fill="none" stroke="#333" stroke-width="0.85"/>
<ellipse cx="395" cy="243.75" rx="10.62" ry="15" fill="#fff" stroke="#1a1a1a" stroke-width="1.3" transform="rotate(17 395 243.75)"/>
<ellipse cx="395.25" cy="243.75" rx="9.25" ry="13.25" fill="none" stroke="#333" stroke-width="1.6" transform="rotate(17 395.25 243.75)" stroke-dasharray="1.2 0.9"/>
<ellipse cx="394.75" cy="244" rx="7" ry="10.25" fill="none" stroke="#222" stroke-width="1.8" transform="rotate(17 394.75 244)"/>
<ellipse cx="394.5" cy="244.25" rx="5" ry="7.25" fill="none" stroke="#333" stroke-width="1.2" transform="rotate(17 394.5 244.25)"/>
<ellipse cx="394.25" cy="244.5" rx="3.75" ry="5.75" fill="#2a2a2a" stroke="none" transform="rotate(17 394.25 244.5)"/>
<ellipse cx="394.5" cy="244.5" rx="5" ry="7.5" fill="none" stroke="#333" stroke-width="1" transform="rotate(17 394.5 244.5)" stroke-dasharray="0.8 0.6"/>
<ellipse cx="393.75" cy="243.5" rx="1" ry="1.5" fill="#ddd" stroke="none" transform="rotate(17 393.75 243.5)"/>
<path d="M388.75 237.75L400 251.5" fill="none" stroke="#444" stroke-width="0.8"/>
<path d="M388.5 251.5L400.75 237.5" fill="none" stroke="#444" stroke-width="0.8"/>
<ellipse cx="400" cy="230.88" rx="0.88" ry="1.12" fill="#333" stroke="none" transform="rotate(17 400 230.88)"/>
<ellipse cx="405" cy="239" rx="0.88" ry="1.12" fill="#333" stroke="none" transform="rotate(17 405 239)"/>
<ellipse cx="403.12" cy="251.5" rx="0.88" ry="1.12" fill="#333" stroke="none" transform="rotate(17 403.12 251.5)"/>
<ellipse cx="392.5" cy="257.75" rx="0.88" ry="1.12" fill="#333" stroke="none" transform="rotate(17 392.5 257.75)"/>
<ellipse cx="386" cy="250.25" rx="0.88" ry="1.12" fill="#333" stroke="none" transform="rotate(17 386 250.25)"/>
<ellipse cx="387.75" cy="235.88" rx="0.88" ry="1.12" fill="#333" stroke="none" transform="rotate(17 387.75 235.88)"/>
<ellipse cx="395" cy="229.62" rx="0.88" ry="1.12" fill="#333" stroke="none" transform="rotate(17 395 229.62)"/>
<path d="M394 258.38L394 262.25" fill="none" stroke="#333" stroke-width="0.85"/>
<ellipse cx="394" cy="263.5" rx="1.25" ry="1.25" fill="#1a1a1a" stroke="none"/>
<ellipse cx="362.25" cy="268.75" rx="9.5" ry="12" fill="#fff" stroke="#222" stroke-width="1.2" transform="rotate(17 362.25 268.75)"/>
<ellipse cx="363" cy="268.75" rx="8.5" ry="11" fill="none" stroke="#555" stroke-width="0.8" transform="rotate(17 363 268.75)"/>
<ellipse cx="363.5" cy="269" rx="6.5" ry="8.75" fill="none" stroke="#777" stroke-width="0.7" transform="rotate(17 363.5 269)"/>
<ellipse cx="361.25" cy="268.75" rx="9.25" ry="12" fill="none" stroke="#222" stroke-width="1" transform="rotate(17 361.25 268.75)"/>
<path d="M362.75 262.5L363.75 266.5L362.25 272.75L360 275.5" fill="none" stroke="#222" stroke-width="1.8" stroke-linejoin="round"/>
<path d="M359.5 270.25L362.75 269L366.5 266.5" fill="none" stroke="#222" stroke-width="1.6" stroke-linejoin="round"/>
<path d="M362.75 269L366.25 271.75" fill="none" stroke="#333" stroke-width="1.4"/>
<ellipse cx="363.25" cy="269" rx="2" ry="3" fill="#2a2a2a" stroke="none" transform="rotate(17 363.25 269)"/>
<ellipse cx="363.25" cy="268.75" rx="0.62" ry="1" fill="#ccc" stroke="none" transform="rotate(17 363.25 268.75)"/>
<path d="M363.75 278.38L364 281.5" fill="none" stroke="#333" stroke-width="0.85"/>
<ellipse cx="364.12" cy="282.88" rx="1.25" ry="1.25" fill="#1a1a1a" stroke="none"/>
<ellipse cx="227.38" cy="258.38" rx="2.12" ry="2.5" fill="#1a1a1a" stroke="none" transform="rotate(17 227.38 258.38)"/>
<ellipse cx="227.38" cy="258.38" rx="0.62" ry="0.75" fill="#888" stroke="none" transform="rotate(17 227.38 258.38)"/>
<ellipse cx="234.88" cy="262.25" rx="3.38" ry="4.38" fill="#222" stroke="none" transform="rotate(17 234.88 262.25)"/>
<ellipse cx="235.12" cy="262.25" rx="1.88" ry="2.75" fill="#bbb" stroke="none" transform="rotate(17 235.12 262.25)"/>
<ellipse cx="235.12" cy="262.25" rx="1" ry="1.62" fill="#444" stroke="none" transform="rotate(17 235.12 262.25)"/>
<ellipse cx="243.25" cy="267.25" rx="2.62" ry="3.62" fill="none" stroke="#111" stroke-width="1.15" transform="rotate(17 243.25 267.25)"/>
<ellipse cx="252" cy="271.88" rx="2.5" ry="3.5" fill="none" stroke="#111" stroke-width="1.15" transform="rotate(17 252 271.88)"/>
<ellipse cx="259.25" cy="276.25" rx="3.25" ry="4.38" fill="#1a1a1a" stroke="none" transform="rotate(17 259.25 276.25)"/>
<ellipse cx="259.5" cy="276.25" rx="1.62" ry="2.5" fill="#aaa" stroke="none" transform="rotate(17 259.5 276.25)"/>
<ellipse cx="259.5" cy="276.25" rx="0.88" ry="1.38" fill="#333" stroke="none" transform="rotate(17 259.5 276.25)"/>
<path d="M229.25 259.38L231.75 260.75" fill="none" stroke="#444" stroke-width="0.7"/>
<path d="M238 264L240.5 265.5" fill="none" stroke="#444" stroke-width="0.7"/>
<path d="M246.12 268.75L249.5 270.5" fill="none" stroke="#444" stroke-width="0.7"/>
<path d="M254.62 273.38L256.5 274.5" fill="none" stroke="#444" stroke-width="0.7"/>
<path d="M216.5 266.88L225.5 260.25" fill="none" stroke="#333" stroke-width="0.85"/>
<path d="M223.62 271.5L232.5 265" fill="none" stroke="#333" stroke-width="0.85"/>
<path d="M231.75 276.5L241.25 269.75" fill="none" stroke="#333" stroke-width="0.85"/>
<path d="M239.5 281.5L250 274.38" fill="none" stroke="#333" stroke-width="0.85"/>
<path d="M245.75 286.5L257 279" fill="none" stroke="#333" stroke-width="0.85"/>
<path d="M256.5 294.38L269.25 286.25" fill="none" stroke="#333" stroke-width="0.85"/>
<path d="M274.25 320.62L283 314.38" fill="none" stroke="#333" stroke-width="0.85"/>
<path d="M280.5 308.75L283 310" fill="none" stroke="#333" stroke-width="0.85"/>
<path d="M274.88 270L267 274.38" fill="none" stroke="#333" stroke-width="0.85"/>
<path d="M264.88 274.38L269.25 275.75" fill="none" stroke="#222" stroke-width="1.6"/>
<path d="M267.96 279.17L288.3 289.78L289.5 292.33L296.68 295.92L296.28 297.52L294.29 298.31L287.91 295.12L285.51 294.56L275.94 288.98L268.36 284.19Z" fill="#fff" stroke="#1a1a1a" stroke-width="0.9" stroke-linejoin="round"/>
<path d="M263.17 278.77L268.36 281.8" fill="none" stroke="#222" stroke-width="2" stroke-linecap="round"/>
<path d="M263.97 279.25L267.96 281.64" fill="none" stroke="#ddd" stroke-width="0.6"/>
<path d="M276.1 284.99L275.3 287.7" fill="none" stroke="#666" stroke-width="2.6"/>
<path d="M277.37 285.63L276.58 288.34" fill="none" stroke="#555" stroke-width="1.2"/>
<path d="M285.91 290.34L284.87 293.53" fill="none" stroke="#333" stroke-width="3"/>
<path d="M287.75 291.37L286.79 294.41" fill="none" stroke="#444" stroke-width="1.6"/>
<path d="M290.3 293.53L293.49 295.36" fill="none" stroke="#333" stroke-width="1"/>
<path d="M295.09 295.68L294.45 298.08" fill="none" stroke="#1a1a1a" stroke-width="2.4"/>
<path d="M297.02 303.51L299.57 296.49L305.96 292.02L311.06 294.57L315.53 296.49L317.13 301.6L324.47 306.7L325.49 310.53L324.47 315L320 318.32L316.81 316.91L309.15 314.36L300.85 315L297.34 309.89Z" fill="#fff" stroke="none"/>
<path d="M309.15 297.13L317.45 302.23L324.47 306.7" fill="none" stroke="#1a1a1a" stroke-width="1.1"/>
<path d="M305.96 312.57L317.45 316.91L320 318.32" fill="none" stroke="#1a1a1a" stroke-width="1.1"/>
<path d="M309.15 306.06L316.81 310.53" fill="none" stroke="#444" stroke-width="0.8"/>
<path d="M308.51 309.25L316.17 313.72" fill="none" stroke="#555" stroke-width="0.8"/>
<path d="M307.87 292.02C308.62 292.45 311.12 293.46 312.34 294.57C313.56 295.69 314.63 297.23 315.21 298.72C315.8 300.21 315.74 302.71 315.85 303.51" fill="none" stroke="#1a1a1a" stroke-width="1.2"/>
<ellipse cx="304.36" cy="303.51" rx="6.06" ry="11.81" fill="#fff" stroke="#1a1a1a" stroke-width="1.6" transform="rotate(17 304.36 303.51)"/>
<ellipse cx="305.19" cy="303.64" rx="5.23" ry="10.72" fill="none" stroke="#555" stroke-width="0.7" transform="rotate(17 305.19 303.64)"/>
<ellipse cx="303.08" cy="306.38" rx="2.87" ry="7.15" fill="none" stroke="#1a1a1a" stroke-width="1.5" transform="rotate(13 303.08 306.38)"/>
<path d="M305.64 299.68L305.32 313.08" fill="none" stroke="#222" stroke-width="1.4"/>
<ellipse cx="299.57" cy="298.72" rx="0.45" ry="0.57" fill="#333" stroke="none"/>
<ellipse cx="297.98" cy="304.15" rx="0.45" ry="0.57" fill="#333" stroke="none"/>
<ellipse cx="299.57" cy="311.17" rx="0.45" ry="0.57" fill="#333" stroke="none"/>
<ellipse cx="303.72" cy="294.57" rx="0.45" ry="0.57" fill="#333" stroke="none"/>
<ellipse cx="309.15" cy="296.17" rx="0.45" ry="0.57" fill="#333" stroke="none"/>
<ellipse cx="306.6" cy="313.72" rx="0.45" ry="0.57" fill="#333" stroke="none"/>
<path d="M311.06 297.26L315.66 296.62L316.94 299.81L316.81 304.91L312.47 303.64Z" fill="#fff" stroke="#1a1a1a" stroke-width="1.2" stroke-linejoin="round"/>
<path d="M312.47 299.81L312.47 303.64" fill="none" stroke="#333" stroke-width="1"/>
<path d="M311.06 297.26L312.47 299.81L316.94 299.81" fill="none" stroke="#333" stroke-width="1"/>
<ellipse cx="320.83" cy="312.45" rx="3.96" ry="5.87" fill="#2a2a2a" stroke="#1a1a1a" stroke-width="1.4" transform="rotate(17 320.83 312.45)"/>
<ellipse cx="321.02" cy="312.32" rx="2.17" ry="3.32" fill="#ddd" stroke="none" transform="rotate(17 321.02 312.32)"/>
<ellipse cx="321.15" cy="312.32" rx="1.02" ry="1.66" fill="#333" stroke="none" transform="rotate(17 321.15 312.32)"/>
<ellipse cx="320" cy="307.98" rx="0.57" ry="0.7" fill="#eee" stroke="none"/>
<ellipse cx="323.83" cy="310.53" rx="0.57" ry="0.7" fill="#eee" stroke="none"/>
<ellipse cx="323.51" cy="315" rx="0.57" ry="0.7" fill="#eee" stroke="none"/>
<ellipse cx="320" cy="317.23" rx="0.57" ry="0.7" fill="#eee" stroke="none"/>
<ellipse cx="317.77" cy="313.72" rx="0.57" ry="0.7" fill="#eee" stroke="none"/>
<path d="M316.81 310.53L317.13 315.64" fill="none" stroke="#1a1a1a" stroke-width="1.6"/>
<path d="M312.34 285L312.47 288.83L316.17 290.74L316.3 296.49" fill="none" stroke="#222" stroke-width="1"/>
<path d="M312.47 288.83L312.47 294.57" fill="none" stroke="#333" stroke-width="0.9"/>
<path d="M312.02 287.55L316.81 288.83" fill="none" stroke="#222" stroke-width="1.4"/>
<path d="M304 337.79L314.8 329.81" fill="none" stroke="#333" stroke-width="0.85"/>
<ellipse cx="315.63" cy="328.15" rx="1" ry="1" fill="#1a1a1a" stroke="none"/>
<path d="M315.63 329.15L316.13 333.97L321.45 338.12" fill="none" stroke="#333" stroke-width="0.8"/>
<path d="M319.79 325.82L327.43 321.5" fill="none" stroke="#444" stroke-width="0.7"/>
<path d="M326.44 329.81L321.45 342.28L330.59 338.12L328.43 331.14Z" fill="#fff" stroke="#222" stroke-width="1.1" stroke-linejoin="round"/>
<path d="M325.11 329.48L327.27 328.98L328.93 331.14" fill="none" stroke="#222" stroke-width="1.4"/>
<ellipse cx="326.44" cy="329.48" rx="0.83" ry="0.83" fill="#1a1a1a" stroke="none"/>
<ellipse cx="333.92" cy="333.97" rx="0.83" ry="0.83" fill="#1a1a1a" stroke="none"/>
<path d="M330.59 332.31L333.92 333.97L337.24 346.44L330.09 352.25" fill="none" stroke="#444" stroke-width="0.8"/>
<path d="M316.8 344.77L320.78 342.45" fill="none" stroke="#333" stroke-width="0.85"/>
<ellipse cx="321.45" cy="341.95" rx="1" ry="1" fill="#1a1a1a" stroke="none"/>
<path d="M321.45 342.78L321.45 351.76" fill="none" stroke="#333" stroke-width="0.8"/>
<ellipse cx="381.88" cy="348.12" rx="6" ry="7.5" fill="#fff" stroke="#1a1a1a" stroke-width="1.6" transform="rotate(17 381.88 348.12)"/>
<ellipse cx="382.75" cy="348.12" rx="4.5" ry="6" fill="none" stroke="#333" stroke-width="1" transform="rotate(17 382.75 348.12)"/>
<ellipse cx="382.75" cy="348.25" rx="2.5" ry="3.75" fill="none" stroke="#555" stroke-width="0.8" transform="rotate(17 382.75 348.25)"/>
<path d="M381.25 345L383.12 351.88" fill="none" stroke="#555" stroke-width="0.8"/>
<path d="M393.5 347.75L397.88 348.75L402.88 353.75L403.88 359.38L400.62 364L394.12 362.5L388.5 359L387.62 353.75L389.75 349.38Z" fill="#fff" stroke="none"/>
<ellipse cx="392.88" cy="355.25" rx="5.25" ry="7.75" fill="none" stroke="#222" stroke-width="1.1" transform="rotate(17 392.88 355.25)"/>
<ellipse cx="399.12" cy="356.25" rx="5" ry="7.5" fill="#fff" stroke="#1a1a1a" stroke-width="1.3" transform="rotate(17 399.12 356.25)"/>
<ellipse cx="399.38" cy="356.25" rx="4.12" ry="6.5" fill="none" stroke="#555" stroke-width="0.7" transform="rotate(17 399.38 356.25)"/>
<path d="M393.88 347.5L400.12 348.75" fill="none" stroke="#222" stroke-width="1.1"/>
<path d="M391.38 362.75L398.12 363.75" fill="none" stroke="#222" stroke-width="1.1"/>
<path d="M394.12 361.88L400.38 363.5" fill="none" stroke="#333" stroke-width="2"/>
<path d="M397.88 356.88L402.25 359" fill="none" stroke="#444" stroke-width="0.7"/>
<path d="M410.12 356.75L414.5 357.75L419.5 362.75L420.5 368.38L417.25 373L410.75 371.5L405.12 368L404.25 362.75L406.38 358.38Z" fill="#fff" stroke="none"/>
<ellipse cx="409.5" cy="364.25" rx="5.25" ry="7.75" fill="none" stroke="#222" stroke-width="1.1" transform="rotate(17 409.5 364.25)"/>
<ellipse cx="415.75" cy="365.25" rx="5" ry="7.5" fill="#fff" stroke="#1a1a1a" stroke-width="1.3" transform="rotate(17 415.75 365.25)"/>
<ellipse cx="416" cy="365.25" rx="4.12" ry="6.5" fill="none" stroke="#555" stroke-width="0.7" transform="rotate(17 416 365.25)"/>
<path d="M410.5 356.5L416.75 357.75" fill="none" stroke="#222" stroke-width="1.1"/>
<path d="M408 371.75L414.75 372.75" fill="none" stroke="#222" stroke-width="1.1"/>
<path d="M410.75 370.88L417 372.5" fill="none" stroke="#333" stroke-width="2"/>
<path d="M414.5 365.88L418.88 368" fill="none" stroke="#444" stroke-width="0.7"/>
<path d="M396 376.25L399.12 375L400 382.5L403.5 383.12L403.75 385.62L399.12 388.12L393.5 385.62L393.75 383.12L396.62 382.25Z" fill="#333" stroke="#1a1a1a" stroke-width="1" stroke-linejoin="round"/>
<path d="M397.25 378.75L398.5 385" fill="none" stroke="#ccc" stroke-width="1"/>
<path d="M394.75 384.38L399.12 386.25L402.88 384.38" fill="none" stroke="#ddd" stroke-width="0.8"/>
<path d="M481.43 283.62L490.26 278.3L498.98 283.83L489.94 288.3Z" fill="#fff" stroke="#222" stroke-width="1" stroke-linejoin="round"/>
<path d="M481.43 283.62L489.94 288.3L485.68 300.32L476.64 295.53Z" fill="#fff" stroke="#222" stroke-width="1" stroke-linejoin="round"/>
<path d="M498.98 283.83L503.02 290" fill="none" stroke="#222" stroke-width="0.9"/>
<path d="M489.94 288.3L501.11 287.55" fill="none" stroke="#555" stroke-width="0.7"/>
<path d="M481.43 283.62L489.94 288.3" fill="none" stroke="#111" stroke-width="1.8"/>
<path d="M490.26 278.3L498.98 283.83" fill="none" stroke="#111" stroke-width="1.8"/>
<path d="M507.7 298.94L516.53 294.26L521.32 299.79L514.94 303.83L512.81 301.49L508.55 305.32Z" fill="#fff" stroke="#222" stroke-width="1" stroke-linejoin="round"/>
<path d="M498.98 294.26L508.02 289.36L516.53 294.26L507.7 298.94Z" fill="#fff" stroke="#222" stroke-width="1" stroke-linejoin="round"/>
<path d="M498.98 294.26L507.7 298.94L503.23 310.96L494.72 306.17Z" fill="#fff" stroke="#222" stroke-width="1" stroke-linejoin="round"/>
<path d="M516.53 294.26L517.91 298.51L514.94 303.83" fill="none" stroke="#444" stroke-width="0.8"/>
<path d="M507.7 298.94L509.62 304.04L503.23 310.96" fill="none" stroke="#444" stroke-width="0.8"/>
<path d="M498.98 294.26L507.7 298.94" fill="none" stroke="#111" stroke-width="1.8"/>
<path d="M508.02 289.36L516.53 294.26" fill="none" stroke="#111" stroke-width="1.8"/>
<ellipse cx="521.32" cy="299.79" rx="0.53" ry="0.53" fill="#222" stroke="none"/>
<path d="M473.98 316.81L478.23 313.62L481.96 315.53L488.34 318.72L496.32 322.13L487.28 326.91L481.96 321.28Z" fill="#fff" stroke="#222" stroke-width="1" stroke-linejoin="round"/>
<path d="M485.15 310.43L492.38 306.17L501.11 311.28L496.32 322.13L488.87 317.02Z" fill="#fff" stroke="#222" stroke-width="1" stroke-linejoin="round"/>
<path d="M492.38 306.17L488.87 317.02" fill="none" stroke="#222" stroke-width="0.9"/>
<path d="M485.15 310.43L481.96 315.53" fill="none" stroke="#222" stroke-width="0.9"/>
<path d="M481.96 315.53L487.28 326.91" fill="none" stroke="#444" stroke-width="0.8"/>
<path d="M478.23 313.62L481.96 321.28" fill="none" stroke="#444" stroke-width="0.8"/>
<path d="M488.87 317.02L496.32 322.13" fill="none" stroke="#111" stroke-width="1.8"/>
<path d="M481.96 315.53L488.87 319.15" fill="none" stroke="#111" stroke-width="1.6"/>
<path d="M492.38 306.17L501.11 311.28" fill="none" stroke="#222" stroke-width="1.4"/>
<path d="M491.53 325.53L498.98 331.49L505.36 328.09L509.62 316.38L518.13 321.28L513.87 331.91L506.64 336.17L497.91 333.83Z" fill="#fff" stroke="#222" stroke-width="1" stroke-linejoin="round"/>
<path d="M505.36 328.09L513.87 331.91" fill="none" stroke="#222" stroke-width="0.9"/>
<path d="M509.62 316.38L506.96 324.26" fill="none" stroke="#444" stroke-width="0.8"/>
<path d="M498.98 331.49L506.64 336.17" fill="none" stroke="#222" stroke-width="0.9"/>
<path d="M511.74 324.26L513.34 331.7" fill="none" stroke="#444" stroke-width="0.8"/>
<path d="M496.32 329.57L501.11 332.77" fill="none" stroke="#111" stroke-width="1.8"/>
<ellipse cx="518.13" cy="321.06" rx="0.53" ry="0.53" fill="#222" stroke="none"/>
<ellipse cx="316.25" cy="396.38" rx="4.5" ry="5.5" fill="#fff" stroke="#1a1a1a" stroke-width="1.6" transform="rotate(17 316.25 396.38)"/>
<ellipse cx="317" cy="396.62" rx="3.25" ry="4.25" fill="none" stroke="#333" stroke-width="1.2" transform="rotate(17 317 396.62)"/>
<ellipse cx="317.25" cy="396.75" rx="1.75" ry="2.5" fill="none" stroke="#555" stroke-width="0.9" transform="rotate(17 317.25 396.75)"/>
<path d="M313.75 392.62L315.25 401.12" fill="none" stroke="#333" stroke-width="1.2"/>
<path d="M317.25 385.75L317.25 390.75" fill="none" stroke="#222" stroke-width="1"/>
<ellipse cx="317.25" cy="385.38" rx="0.75" ry="0.75" fill="#1a1a1a" stroke="none"/>
<ellipse cx="324.38" cy="401.38" rx="3.25" ry="4.25" fill="#fff" stroke="#222" stroke-width="2.8" transform="rotate(17 324.38 401.38)" stroke-dasharray="1.3 0.5"/>
<ellipse cx="324.62" cy="401.5" rx="1.62" ry="2.38" fill="none" stroke="#333" stroke-width="1.4" transform="rotate(17 324.62 401.5)"/>
<ellipse cx="333.5" cy="406.38" rx="4.5" ry="5.5" fill="#222" stroke="none" transform="rotate(17 333.5 406.38)"/>
<ellipse cx="334" cy="406.62" rx="2" ry="2.75" fill="#ddd" stroke="none" transform="rotate(17 334 406.62)"/>
<ellipse cx="333.5" cy="406.38" rx="4.5" ry="5.5" fill="none" stroke="#222" stroke-width="1.6" transform="rotate(17 333.5 406.38)" stroke-dasharray="0.9 0.7"/>
<ellipse cx="343.12" cy="412.62" rx="3.38" ry="5.25" fill="#fff" stroke="#222" stroke-width="1.5" transform="rotate(17 343.12 412.62)"/>
<ellipse cx="343.38" cy="412.75" rx="2.12" ry="3.75" fill="none" stroke="#555" stroke-width="0.9" transform="rotate(17 343.38 412.75)"/>
<path d="M343.75 407.62L351.5 409.25" fill="none" stroke="#222" stroke-width="1"/>
<path d="M343.12 417.75L350 421" fill="none" stroke="#222" stroke-width="1"/>
<ellipse cx="351.25" cy="415.12" rx="4.12" ry="6.25" fill="#fff" stroke="#1a1a1a" stroke-width="1.6" transform="rotate(17 351.25 415.12)"/>
<ellipse cx="351.62" cy="415.25" rx="2.75" ry="4.5" fill="none" stroke="#444" stroke-width="1" transform="rotate(17 351.62 415.25)"/>
<ellipse cx="351.88" cy="415.5" rx="1.5" ry="2.5" fill="none" stroke="#666" stroke-width="0.8" transform="rotate(17 351.88 415.5)"/>
<ellipse cx="354.38" cy="409.5" rx="0.62" ry="0.62" fill="#1a1a1a" stroke="none"/>
<ellipse cx="365" cy="423.88" rx="4.5" ry="5.5" fill="#fff" stroke="#1a1a1a" stroke-width="1.6" transform="rotate(17 365 423.88)"/>
<ellipse cx="365.75" cy="424.12" rx="3.25" ry="4.25" fill="none" stroke="#333" stroke-width="1.2" transform="rotate(17 365.75 424.12)"/>
<ellipse cx="366" cy="424.25" rx="1.75" ry="2.5" fill="none" stroke="#555" stroke-width="0.9" transform="rotate(17 366 424.25)"/>
<path d="M362.5 420.12L364 428.62" fill="none" stroke="#333" stroke-width="1.2"/>
<path d="M366 413.25L366 418.25" fill="none" stroke="#222" stroke-width="1"/>
<ellipse cx="366" cy="412.88" rx="0.75" ry="0.75" fill="#1a1a1a" stroke="none"/>
<ellipse cx="305.25" cy="438.25" rx="4.5" ry="5.5" fill="#fff" stroke="#1a1a1a" stroke-width="1.6" transform="rotate(17 305.25 438.25)"/>
<ellipse cx="306" cy="438.5" rx="3.25" ry="4.25" fill="none" stroke="#333" stroke-width="1.2" transform="rotate(17 306 438.5)"/>
<ellipse cx="306.25" cy="438.62" rx="1.75" ry="2.5" fill="none" stroke="#555" stroke-width="0.9" transform="rotate(17 306.25 438.62)"/>
<path d="M302.75 434.5L304.25 443" fill="none" stroke="#333" stroke-width="1.2"/>
<path d="M306.25 427.62L306.25 432.62" fill="none" stroke="#222" stroke-width="1"/>
<ellipse cx="306.25" cy="427.25" rx="0.75" ry="0.75" fill="#1a1a1a" stroke="none"/>
<ellipse cx="232.5" cy="440.62" rx="5.75" ry="7" fill="#1a1a1a" stroke="none" transform="rotate(17 232.5 440.62)"/>
<ellipse cx="233.25" cy="440.88" rx="2.5" ry="3.5" fill="#ccc" stroke="none" transform="rotate(17 233.25 440.88)"/>
<ellipse cx="233.38" cy="441" rx="1.12" ry="1.62" fill="#333" stroke="none" transform="rotate(17 233.38 441)"/>
<ellipse cx="236.79" cy="441.66" rx="0.62" ry="0.75" fill="#eee" stroke="none"/>
<ellipse cx="234.38" cy="445.46" rx="0.62" ry="0.75" fill="#eee" stroke="none"/>
<ellipse cx="230.46" cy="444.43" rx="0.62" ry="0.75" fill="#eee" stroke="none"/>
<ellipse cx="228.96" cy="439.59" rx="0.62" ry="0.75" fill="#eee" stroke="none"/>
<ellipse cx="231.37" cy="435.79" rx="0.62" ry="0.75" fill="#eee" stroke="none"/>
<ellipse cx="235.29" cy="436.82" rx="0.62" ry="0.75" fill="#eee" stroke="none"/>
<path d="M230.38 429.75L230.38 434.38" fill="none" stroke="#222" stroke-width="1"/>
<ellipse cx="230.38" cy="429.25" rx="0.75" ry="0.75" fill="#1a1a1a" stroke="none"/>
<ellipse cx="266.62" cy="460.25" rx="5.75" ry="7" fill="#1a1a1a" stroke="none" transform="rotate(17 266.62 460.25)"/>
<ellipse cx="267.38" cy="460.5" rx="2.5" ry="3.5" fill="#ccc" stroke="none" transform="rotate(17 267.38 460.5)"/>
<ellipse cx="267.5" cy="460.62" rx="1.12" ry="1.62" fill="#333" stroke="none" transform="rotate(17 267.5 460.62)"/>
<ellipse cx="270.92" cy="461.28" rx="0.62" ry="0.75" fill="#eee" stroke="none"/>
<ellipse cx="268.5" cy="465.08" rx="0.62" ry="0.75" fill="#eee" stroke="none"/>
<ellipse cx="264.59" cy="464.05" rx="0.62" ry="0.75" fill="#eee" stroke="none"/>
<ellipse cx="263.08" cy="459.22" rx="0.62" ry="0.75" fill="#eee" stroke="none"/>
<ellipse cx="265.5" cy="455.42" rx="0.62" ry="0.75" fill="#eee" stroke="none"/>
<ellipse cx="269.41" cy="456.45" rx="0.62" ry="0.75" fill="#eee" stroke="none"/>
<path d="M267.25 448L267.25 453.5" fill="none" stroke="#222" stroke-width="1"/>
<ellipse cx="267.25" cy="447.75" rx="0.75" ry="0.75" fill="#1a1a1a" stroke="none"/>
<ellipse cx="281.62" cy="424.75" rx="4.75" ry="5.75" fill="#fff" stroke="#1a1a1a" stroke-width="1.8" transform="rotate(17 281.62 424.75)"/>
<ellipse cx="282.25" cy="425" rx="3" ry="4" fill="none" stroke="#333" stroke-width="1.4" transform="rotate(17 282.25 425)"/>
<ellipse cx="282.5" cy="425.12" rx="1.25" ry="1.88" fill="#444" stroke="none" transform="rotate(17 282.5 425.12)"/>
<ellipse cx="293.5" cy="431.25" rx="3.25" ry="4.25" fill="#fff" stroke="#222" stroke-width="2.8" transform="rotate(17 293.5 431.25)" stroke-dasharray="1.3 0.5"/>
<ellipse cx="293.75" cy="431.38" rx="1.62" ry="2.25" fill="none" stroke="#333" stroke-width="1.4" transform="rotate(17 293.75 431.38)"/>
<path d="M288.75 511.5L294.38 509L317.25 521.88L316.88 524.75L311.25 527.75L288.75 514.38Z" fill="#fff" stroke="#1a1a1a" stroke-width="1" stroke-linejoin="round"/>
<path d="M288.75 511.5L311.25 525L317.25 521.88" fill="none" stroke="#1a1a1a" stroke-width="1"/>
<path d="M311.25 525L311.25 527.75" fill="none" stroke="#1a1a1a" stroke-width="0.9"/>
<ellipse cx="294" cy="511.5" rx="0.62" ry="0.62" fill="#1a1a1a" stroke="none"/>
<ellipse cx="311.88" cy="522.25" rx="0.62" ry="0.62" fill="#1a1a1a" stroke="none"/>
<path d="M290.62 499.38L295 497.25L313.75 508.12L313.75 511L310.62 512.75L290.62 501.88Z" fill="#fff" stroke="#1a1a1a" stroke-width="1" stroke-linejoin="round"/>
<path d="M290.62 499.38L310.62 510.25L313.75 508.12" fill="none" stroke="#1a1a1a" stroke-width="0.9"/>
<path d="M310.62 510.25L310.62 512.75" fill="none" stroke="#1a1a1a" stroke-width="0.9"/>
<path d="M315.62 508.75L330 516.88L335.62 514L335.62 516.25L330 519.75L315.62 511.5Z" fill="#fff" stroke="#1a1a1a" stroke-width="1" stroke-linejoin="round"/>
<path d="M330 516.88L330 519.75" fill="none" stroke="#1a1a1a" stroke-width="0.9"/>
<ellipse cx="293.5" cy="499.75" rx="0.88" ry="0.88" fill="#1a1a1a" stroke="none"/>
<ellipse cx="330.25" cy="517.25" rx="0.62" ry="0.62" fill="#1a1a1a" stroke="none"/>
<path d="M288.75 475L295 471.25L313.12 481.25L325 476.25L340 483.5L344.38 491.25L343.75 500L340 507.5L335 512.5L328.75 513.12L312.5 505L311.25 508.75L291.25 497.5L287.5 490L286.88 481.25Z" fill="#fff" stroke="#1a1a1a" stroke-width="1.1" stroke-linejoin="round"/>
<path d="M288.75 479.5L312.5 491.75L312.75 504.5L291.88 493.75L288.75 487.5Z" fill="#333" stroke="#222" stroke-width="0.6"/>
<path d="M290.62 481.25L291.38 492.5" fill="none" stroke="#bbb" stroke-width="0.4"/>
<path d="M293.12 482.54L293.88 493.81" fill="none" stroke="#bbb" stroke-width="0.4"/>
<path d="M295.62 483.82L296.38 495.12" fill="none" stroke="#bbb" stroke-width="0.4"/>
<path d="M298.12 485.11L298.88 496.44" fill="none" stroke="#bbb" stroke-width="0.4"/>
<path d="M300.62 486.4L301.38 497.75" fill="none" stroke="#bbb" stroke-width="0.4"/>
<path d="M303.12 487.69L303.88 499.06" fill="none" stroke="#bbb" stroke-width="0.4"/>
<path d="M305.62 488.98L306.38 500.38" fill="none" stroke="#bbb" stroke-width="0.4"/>
<path d="M308.12 490.26L308.88 501.69" fill="none" stroke="#bbb" stroke-width="0.4"/>
<path d="M310.62 491.55L311.38 503" fill="none" stroke="#bbb" stroke-width="0.4"/>
<path d="M313.75 481.25L325 476.5L328.75 479L315 485Z" fill="#333" stroke="#222" stroke-width="0.6"/>
<path d="M311.25 482.75L312.5 492.25" fill="none" stroke="#1a1a1a" stroke-width="1"/>
<path d="M288.75 475C288.46 476.04 287.21 478.75 287 481.25C286.79 483.75 286.79 487.29 287.5 490C288.21 492.71 290.62 496.25 291.25 497.5" fill="none" stroke="#1a1a1a" stroke-width="1.2"/>
<ellipse cx="288.5" cy="473.75" rx="1" ry="1.5" fill="#fff" stroke="#1a1a1a" stroke-width="1"/>
<ellipse cx="334.38" cy="498.12" rx="9.5" ry="14.5" fill="#fff" stroke="#1a1a1a" stroke-width="1.2" transform="rotate(17 334.38 498.12)"/>
<ellipse cx="334" cy="498.25" rx="8.25" ry="13" fill="none" stroke="#666" stroke-width="0.7" transform="rotate(17 334 498.25)"/>
<path d="M313.12 487.5L313.75 505" fill="none" stroke="#333" stroke-width="0.9"/>
<path d="M295.62 465.62L310.62 456L325.62 465.62L325.62 475L311.25 482.75L295.62 474.38Z" fill="#fff" stroke="#1a1a1a" stroke-width="1.1" stroke-linejoin="round"/>
<path d="M295.62 465.62L311.25 474.38L325.62 465.62" fill="none" stroke="#1a1a1a" stroke-width="1"/>
<path d="M311.25 474.38L311.25 482.75" fill="none" stroke="#1a1a1a" stroke-width="1"/>
<path d="M295.62 474.38L300 476.88L300 481.25" fill="none" stroke="#333" stroke-width="0.8"/>
<g class="lb">
<text x="215.75" y="126.75">20</text>
<text x="202.75" y="133">509</text>
<text x="226" y="182.75">6</text>
<text x="232" y="188">26</text>
<text x="253" y="104">510</text>
<text x="268" y="96">508</text>
<text x="277.25" y="91">505</text>
<text x="287.25" y="86">506</text>
<text x="304.12" y="116.88">501</text>
<text x="279.12" y="153.5">511</text>
<text x="336" y="137.12">45</text>
<text x="349.12" y="144">24</text>
<text x="299.5" y="164">45</text>
<text x="310.12" y="167.75">67</text>
<text x="319.12" y="172.75">66</text>
<text x="325.38" y="177.75">49</text>
<text x="345.75" y="185">105b</text>
<text x="355.75" y="190">105</text>
<text x="365.5" y="185.88">119</text>
<text x="481.25" y="86">77</text>
<text x="500" y="97.25">77b</text>
<text x="418.25" y="139.38">105b</text>
<text x="426" y="144.38">105c</text>
<text x="434.38" y="148.12">105</text>
<text x="460.25" y="142.25">119</text>
<text x="468.12" y="147.25">109</text>
<text x="478.75" y="152.25">72a</text>
<text x="499.38" y="155.62">77</text>
<text x="439.25" y="70">119</text>
<text x="448" y="75">109</text>
<text x="462.12" y="77.25">72a</text>
<text x="546.25" y="87">17a</text>
<text x="569.5" y="75">17c</text>
<text x="575.38" y="82">17c</text>
<text x="565.38" y="93.75">17a</text>
<text x="568.12" y="111">17b</text>
<text x="513.75" y="105">77a</text>
<text x="540.38" y="114.12">17a</text>
<text x="551.25" y="120">17c</text>
<text x="548.5" y="133.75">17d</text>
<text x="390.75" y="155">105c</text>
<text x="401.62" y="161.25">105</text>
<text x="375.38" y="191.25">109</text>
<text x="389.12" y="198.75">72a</text>
<text x="379.12" y="207.25">45b</text>
<text x="446" y="181.88">99</text>
<text x="442.88" y="190">99a</text>
<text x="408.25" y="212.75">77</text>
<text x="521" y="156.25">17a</text>
<text x="533.5" y="162.5">17c</text>
<text x="528.12" y="176.25">17d</text>
<text x="469" y="186">17a</text>
<text x="480.25" y="191.88">17c</text>
<text x="476.5" y="206.25">17d</text>
<text x="544.38" y="191.88">109</text>
<text x="557.5" y="195">110</text>
<text x="510.62" y="212.75">107</text>
<text x="565" y="202.25">110a</text>
<text x="232" y="212.5">45a</text>
<text x="243" y="219.25">65</text>
<text x="252" y="223.38">24</text>
<text x="274.88" y="197.12">66a</text>
<text x="308.5" y="218">105</text>
<text x="322" y="224.25">72a</text>
<text x="337" y="233.25">45c</text>
<text x="289.75" y="244.25">24b</text>
<text x="297" y="251.12">65b</text>
<text x="308" y="256.5">45b</text>
<text x="365" y="196">24b</text>
<text x="411.88" y="225.88">77</text>
<text x="386.5" y="269">17</text>
<text x="374" y="255">77</text>
<text x="357.25" y="289">17</text>
<text x="328.5" y="289">124a</text>
<text x="204.88" y="270.25">159a</text>
<text x="212" y="275">159e</text>
<text x="221.5" y="280">159f</text>
<text x="231.12" y="285">54a</text>
<text x="240.25" y="290">54</text>
<text x="251.5" y="296">51</text>
<text x="263" y="322.25">124c</text>
<text x="274.88" y="330">124d</text>
<text x="275.5" y="269">11</text>
<text x="297.25" y="283.25">11a</text>
<text x="313" y="276.75">76a</text>
<text x="320.75" y="282">76</text>
<text x="343.88" y="296.38">99a</text>
<text x="304.25" y="324.25">66</text>
<text x="295.12" y="339.75">90d</text>
<text x="354" y="301.25">53a</text>
<text x="363.5" y="306">53</text>
<text x="370" y="310.25">53b</text>
<text x="374.38" y="316">159f</text>
<text x="385.25" y="320.25">159e</text>
<text x="395" y="326.25">159a</text>
<text x="405.62" y="331">7b</text>
<text x="419" y="336.88">7</text>
<text x="434.12" y="346">7c</text>
<text x="356" y="375">7k</text>
<text x="375.38" y="385">7e</text>
<text x="387.88" y="393.75">7d</text>
<text x="396.25" y="398.75">7h</text>
<text x="516" y="276">7g</text>
<text x="464.75" y="291.75">7a</text>
<text x="464" y="353.75">7h</text>
<text x="486" y="368.12">7j</text>
<text x="322.25" y="380.12">88b</text>
<text x="331" y="385.5">88g</text>
<text x="340.25" y="390.12">88</text>
<text x="350" y="395.12">88e</text>
<text x="359" y="400.12">88f</text>
<text x="365" y="405.12">88c</text>
<text x="375" y="410.12">88a</text>
<text x="384" y="416">88k</text>
<text x="333.12" y="427.25">88d</text>
<text x="305.25" y="421.38">88</text>
<text x="311.88" y="425.12">88a</text>
<text x="320" y="431">88e</text>
<text x="295" y="416.38">88g</text>
<text x="241.25" y="424.38">88b</text>
<text x="277.25" y="444.38">88a</text>
<text x="209.12" y="453.12">88g</text>
<text x="216" y="460">88d</text>
<text x="224.12" y="463.75">88f</text>
<text x="231" y="468.12">88</text>
<text x="238.25" y="471.25">88g</text>
<text x="247.88" y="476.25">88k</text>
<text x="255.38" y="480">88c</text>
<text x="287.88" y="410">88b</text>
<text x="326.88" y="526">90b</text>
<text x="272.75" y="491">90a</text>
<text x="266.25" y="486.25">88k</text>
<text x="251.11" y="559.36">90</text>
<text x="483.12" y="217.25">109</text>
<text x="451.25" y="240">107</text>
<text x="464" y="246.88">109</text>
<text x="424" y="231.88">99</text>
<text x="431.88" y="237.25">99a</text>
<text x="525.25" y="219">109</text>
<text x="499" y="224.75">110</text>
<text x="506.25" y="230.25">110a</text>
<text x="308.25" y="347.12">90c</text>
<text x="321" y="355">90e</text>
</g>
</svg>
</body>
</html>
